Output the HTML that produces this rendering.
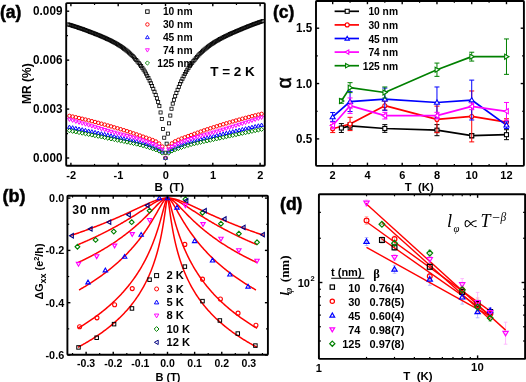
<!DOCTYPE html>
<html><head><meta charset="utf-8"><style>
html,body{margin:0;padding:0;background:#fff;width:526px;height:382px;overflow:hidden}
svg{display:block;will-change:transform}

</style></head><body>
<svg width="526" height="382" viewBox="0 0 526 382"><g id="pa">
<rect x="66.63" y="22.86" width="3.1" height="3.1" fill="none" stroke="#000000" stroke-width="0.8"/><rect x="67.85" y="23.22" width="3.1" height="3.1" fill="none" stroke="#000000" stroke-width="0.8"/><rect x="69.07" y="23.58" width="3.1" height="3.1" fill="none" stroke="#000000" stroke-width="0.8"/><rect x="70.28" y="23.95" width="3.1" height="3.1" fill="none" stroke="#000000" stroke-width="0.8"/><rect x="71.5" y="24.33" width="3.1" height="3.1" fill="none" stroke="#000000" stroke-width="0.8"/><rect x="72.71" y="24.72" width="3.1" height="3.1" fill="none" stroke="#000000" stroke-width="0.8"/><rect x="73.93" y="25.11" width="3.1" height="3.1" fill="none" stroke="#000000" stroke-width="0.8"/><rect x="75.14" y="25.51" width="3.1" height="3.1" fill="none" stroke="#000000" stroke-width="0.8"/><rect x="76.36" y="25.91" width="3.1" height="3.1" fill="none" stroke="#000000" stroke-width="0.8"/><rect x="77.58" y="26.32" width="3.1" height="3.1" fill="none" stroke="#000000" stroke-width="0.8"/><rect x="78.79" y="26.74" width="3.1" height="3.1" fill="none" stroke="#000000" stroke-width="0.8"/><rect x="80.01" y="27.16" width="3.1" height="3.1" fill="none" stroke="#000000" stroke-width="0.8"/><rect x="81.22" y="27.59" width="3.1" height="3.1" fill="none" stroke="#000000" stroke-width="0.8"/><rect x="82.44" y="28.03" width="3.1" height="3.1" fill="none" stroke="#000000" stroke-width="0.8"/><rect x="83.65" y="28.47" width="3.1" height="3.1" fill="none" stroke="#000000" stroke-width="0.8"/><rect x="84.87" y="28.92" width="3.1" height="3.1" fill="none" stroke="#000000" stroke-width="0.8"/><rect x="86.08" y="29.37" width="3.1" height="3.1" fill="none" stroke="#000000" stroke-width="0.8"/><rect x="87.3" y="29.83" width="3.1" height="3.1" fill="none" stroke="#000000" stroke-width="0.8"/><rect x="88.52" y="30.3" width="3.1" height="3.1" fill="none" stroke="#000000" stroke-width="0.8"/><rect x="89.73" y="30.76" width="3.1" height="3.1" fill="none" stroke="#000000" stroke-width="0.8"/><rect x="90.95" y="31.23" width="3.1" height="3.1" fill="none" stroke="#000000" stroke-width="0.8"/><rect x="92.16" y="31.7" width="3.1" height="3.1" fill="none" stroke="#000000" stroke-width="0.8"/><rect x="93.38" y="32.18" width="3.1" height="3.1" fill="none" stroke="#000000" stroke-width="0.8"/><rect x="94.59" y="32.66" width="3.1" height="3.1" fill="none" stroke="#000000" stroke-width="0.8"/><rect x="95.81" y="33.14" width="3.1" height="3.1" fill="none" stroke="#000000" stroke-width="0.8"/><rect x="97.03" y="33.63" width="3.1" height="3.1" fill="none" stroke="#000000" stroke-width="0.8"/><rect x="98.24" y="34.13" width="3.1" height="3.1" fill="none" stroke="#000000" stroke-width="0.8"/><rect x="99.46" y="34.64" width="3.1" height="3.1" fill="none" stroke="#000000" stroke-width="0.8"/><rect x="100.67" y="35.15" width="3.1" height="3.1" fill="none" stroke="#000000" stroke-width="0.8"/><rect x="101.89" y="35.68" width="3.1" height="3.1" fill="none" stroke="#000000" stroke-width="0.8"/><rect x="103.1" y="36.21" width="3.1" height="3.1" fill="none" stroke="#000000" stroke-width="0.8"/><rect x="104.32" y="36.76" width="3.1" height="3.1" fill="none" stroke="#000000" stroke-width="0.8"/><rect x="105.53" y="37.32" width="3.1" height="3.1" fill="none" stroke="#000000" stroke-width="0.8"/><rect x="106.75" y="37.89" width="3.1" height="3.1" fill="none" stroke="#000000" stroke-width="0.8"/><rect x="107.97" y="38.48" width="3.1" height="3.1" fill="none" stroke="#000000" stroke-width="0.8"/><rect x="109.18" y="39.08" width="3.1" height="3.1" fill="none" stroke="#000000" stroke-width="0.8"/><rect x="110.4" y="39.69" width="3.1" height="3.1" fill="none" stroke="#000000" stroke-width="0.8"/><rect x="111.61" y="40.32" width="3.1" height="3.1" fill="none" stroke="#000000" stroke-width="0.8"/><rect x="112.83" y="40.97" width="3.1" height="3.1" fill="none" stroke="#000000" stroke-width="0.8"/><rect x="114.04" y="41.64" width="3.1" height="3.1" fill="none" stroke="#000000" stroke-width="0.8"/><rect x="115.26" y="42.33" width="3.1" height="3.1" fill="none" stroke="#000000" stroke-width="0.8"/><rect x="116.47" y="43.05" width="3.1" height="3.1" fill="none" stroke="#000000" stroke-width="0.8"/><rect x="117.69" y="43.81" width="3.1" height="3.1" fill="none" stroke="#000000" stroke-width="0.8"/><rect x="118.91" y="44.59" width="3.1" height="3.1" fill="none" stroke="#000000" stroke-width="0.8"/><rect x="120.12" y="45.4" width="3.1" height="3.1" fill="none" stroke="#000000" stroke-width="0.8"/><rect x="121.34" y="46.25" width="3.1" height="3.1" fill="none" stroke="#000000" stroke-width="0.8"/><rect x="122.55" y="47.13" width="3.1" height="3.1" fill="none" stroke="#000000" stroke-width="0.8"/><rect x="123.77" y="48.05" width="3.1" height="3.1" fill="none" stroke="#000000" stroke-width="0.8"/><rect x="124.98" y="49" width="3.1" height="3.1" fill="none" stroke="#000000" stroke-width="0.8"/><rect x="126.2" y="49.99" width="3.1" height="3.1" fill="none" stroke="#000000" stroke-width="0.8"/><rect x="127.42" y="51.01" width="3.1" height="3.1" fill="none" stroke="#000000" stroke-width="0.8"/><rect x="128.63" y="52.1" width="3.1" height="3.1" fill="none" stroke="#000000" stroke-width="0.8"/><rect x="129.85" y="53.26" width="3.1" height="3.1" fill="none" stroke="#000000" stroke-width="0.8"/><rect x="131.06" y="54.49" width="3.1" height="3.1" fill="none" stroke="#000000" stroke-width="0.8"/><rect x="132.28" y="55.77" width="3.1" height="3.1" fill="none" stroke="#000000" stroke-width="0.8"/><rect x="133.49" y="57.12" width="3.1" height="3.1" fill="none" stroke="#000000" stroke-width="0.8"/><rect x="134.71" y="58.51" width="3.1" height="3.1" fill="none" stroke="#000000" stroke-width="0.8"/><rect x="135.92" y="59.95" width="3.1" height="3.1" fill="none" stroke="#000000" stroke-width="0.8"/><rect x="137.14" y="61.43" width="3.1" height="3.1" fill="none" stroke="#000000" stroke-width="0.8"/><rect x="138.36" y="62.95" width="3.1" height="3.1" fill="none" stroke="#000000" stroke-width="0.8"/><rect x="139.57" y="64.55" width="3.1" height="3.1" fill="none" stroke="#000000" stroke-width="0.8"/><rect x="140.79" y="66.25" width="3.1" height="3.1" fill="none" stroke="#000000" stroke-width="0.8"/><rect x="142" y="68.05" width="3.1" height="3.1" fill="none" stroke="#000000" stroke-width="0.8"/><rect x="143.22" y="69.98" width="3.1" height="3.1" fill="none" stroke="#000000" stroke-width="0.8"/><rect x="144.43" y="72.04" width="3.1" height="3.1" fill="none" stroke="#000000" stroke-width="0.8"/><rect x="145.65" y="74.25" width="3.1" height="3.1" fill="none" stroke="#000000" stroke-width="0.8"/><rect x="146.87" y="76.59" width="3.1" height="3.1" fill="none" stroke="#000000" stroke-width="0.8"/><rect x="148.08" y="79.06" width="3.1" height="3.1" fill="none" stroke="#000000" stroke-width="0.8"/><rect x="149.3" y="81.65" width="3.1" height="3.1" fill="none" stroke="#000000" stroke-width="0.8"/><rect x="150.51" y="84.36" width="3.1" height="3.1" fill="none" stroke="#000000" stroke-width="0.8"/><rect x="151.73" y="87.19" width="3.1" height="3.1" fill="none" stroke="#000000" stroke-width="0.8"/><rect x="152.94" y="90.18" width="3.1" height="3.1" fill="none" stroke="#000000" stroke-width="0.8"/><rect x="154.16" y="93.35" width="3.1" height="3.1" fill="none" stroke="#000000" stroke-width="0.8"/><rect x="155.37" y="96.74" width="3.1" height="3.1" fill="none" stroke="#000000" stroke-width="0.8"/><rect x="156.59" y="100.39" width="3.1" height="3.1" fill="none" stroke="#000000" stroke-width="0.8"/><rect x="157.81" y="104.58" width="3.1" height="3.1" fill="none" stroke="#000000" stroke-width="0.8"/><rect x="159.02" y="110.92" width="3.1" height="3.1" fill="none" stroke="#000000" stroke-width="0.8"/><rect x="160.24" y="117.47" width="3.1" height="3.1" fill="none" stroke="#000000" stroke-width="0.8"/><rect x="161.45" y="127.4" width="3.1" height="3.1" fill="none" stroke="#000000" stroke-width="0.8"/><rect x="162.67" y="136.15" width="3.1" height="3.1" fill="none" stroke="#000000" stroke-width="0.8"/><rect x="163.88" y="151.15" width="3.1" height="3.1" fill="none" stroke="#000000" stroke-width="0.8"/><rect x="165.1" y="142.14" width="3.1" height="3.1" fill="none" stroke="#000000" stroke-width="0.8"/><rect x="166.31" y="132.08" width="3.1" height="3.1" fill="none" stroke="#000000" stroke-width="0.8"/><rect x="167.53" y="121.79" width="3.1" height="3.1" fill="none" stroke="#000000" stroke-width="0.8"/><rect x="168.75" y="114" width="3.1" height="3.1" fill="none" stroke="#000000" stroke-width="0.8"/><rect x="169.96" y="107.2" width="3.1" height="3.1" fill="none" stroke="#000000" stroke-width="0.8"/><rect x="171.18" y="102.09" width="3.1" height="3.1" fill="none" stroke="#000000" stroke-width="0.8"/><rect x="172.39" y="98.23" width="3.1" height="3.1" fill="none" stroke="#000000" stroke-width="0.8"/><rect x="173.61" y="94.67" width="3.1" height="3.1" fill="none" stroke="#000000" stroke-width="0.8"/><rect x="174.82" y="91.35" width="3.1" height="3.1" fill="none" stroke="#000000" stroke-width="0.8"/><rect x="176.04" y="88.23" width="3.1" height="3.1" fill="none" stroke="#000000" stroke-width="0.8"/><rect x="177.26" y="85.29" width="3.1" height="3.1" fill="none" stroke="#000000" stroke-width="0.8"/><rect x="178.47" y="82.48" width="3.1" height="3.1" fill="none" stroke="#000000" stroke-width="0.8"/><rect x="179.69" y="79.78" width="3.1" height="3.1" fill="none" stroke="#000000" stroke-width="0.8"/><rect x="180.9" y="77.2" width="3.1" height="3.1" fill="none" stroke="#000000" stroke-width="0.8"/><rect x="182.12" y="74.75" width="3.1" height="3.1" fill="none" stroke="#000000" stroke-width="0.8"/><rect x="183.33" y="72.43" width="3.1" height="3.1" fill="none" stroke="#000000" stroke-width="0.8"/><rect x="184.55" y="70.26" width="3.1" height="3.1" fill="none" stroke="#000000" stroke-width="0.8"/><rect x="185.76" y="68.22" width="3.1" height="3.1" fill="none" stroke="#000000" stroke-width="0.8"/><rect x="186.98" y="66.32" width="3.1" height="3.1" fill="none" stroke="#000000" stroke-width="0.8"/><rect x="188.2" y="64.52" width="3.1" height="3.1" fill="none" stroke="#000000" stroke-width="0.8"/><rect x="189.41" y="62.83" width="3.1" height="3.1" fill="none" stroke="#000000" stroke-width="0.8"/><rect x="190.63" y="61.23" width="3.1" height="3.1" fill="none" stroke="#000000" stroke-width="0.8"/><rect x="191.84" y="59.69" width="3.1" height="3.1" fill="none" stroke="#000000" stroke-width="0.8"/><rect x="193.06" y="58.19" width="3.1" height="3.1" fill="none" stroke="#000000" stroke-width="0.8"/><rect x="194.27" y="56.73" width="3.1" height="3.1" fill="none" stroke="#000000" stroke-width="0.8"/><rect x="195.49" y="55.31" width="3.1" height="3.1" fill="none" stroke="#000000" stroke-width="0.8"/><rect x="196.71" y="53.95" width="3.1" height="3.1" fill="none" stroke="#000000" stroke-width="0.8"/><rect x="197.92" y="52.65" width="3.1" height="3.1" fill="none" stroke="#000000" stroke-width="0.8"/><rect x="199.14" y="51.41" width="3.1" height="3.1" fill="none" stroke="#000000" stroke-width="0.8"/><rect x="200.35" y="50.25" width="3.1" height="3.1" fill="none" stroke="#000000" stroke-width="0.8"/><rect x="201.57" y="49.15" width="3.1" height="3.1" fill="none" stroke="#000000" stroke-width="0.8"/><rect x="202.78" y="48.1" width="3.1" height="3.1" fill="none" stroke="#000000" stroke-width="0.8"/><rect x="204" y="47.09" width="3.1" height="3.1" fill="none" stroke="#000000" stroke-width="0.8"/><rect x="205.21" y="46.11" width="3.1" height="3.1" fill="none" stroke="#000000" stroke-width="0.8"/><rect x="206.43" y="45.17" width="3.1" height="3.1" fill="none" stroke="#000000" stroke-width="0.8"/><rect x="207.65" y="44.26" width="3.1" height="3.1" fill="none" stroke="#000000" stroke-width="0.8"/><rect x="208.86" y="43.39" width="3.1" height="3.1" fill="none" stroke="#000000" stroke-width="0.8"/><rect x="210.08" y="42.55" width="3.1" height="3.1" fill="none" stroke="#000000" stroke-width="0.8"/><rect x="211.29" y="41.74" width="3.1" height="3.1" fill="none" stroke="#000000" stroke-width="0.8"/><rect x="212.51" y="40.96" width="3.1" height="3.1" fill="none" stroke="#000000" stroke-width="0.8"/><rect x="213.72" y="40.21" width="3.1" height="3.1" fill="none" stroke="#000000" stroke-width="0.8"/><rect x="214.94" y="39.48" width="3.1" height="3.1" fill="none" stroke="#000000" stroke-width="0.8"/><rect x="216.16" y="38.78" width="3.1" height="3.1" fill="none" stroke="#000000" stroke-width="0.8"/><rect x="217.37" y="38.1" width="3.1" height="3.1" fill="none" stroke="#000000" stroke-width="0.8"/><rect x="218.59" y="37.43" width="3.1" height="3.1" fill="none" stroke="#000000" stroke-width="0.8"/><rect x="219.8" y="36.78" width="3.1" height="3.1" fill="none" stroke="#000000" stroke-width="0.8"/><rect x="221.02" y="36.14" width="3.1" height="3.1" fill="none" stroke="#000000" stroke-width="0.8"/><rect x="222.23" y="35.52" width="3.1" height="3.1" fill="none" stroke="#000000" stroke-width="0.8"/><rect x="223.45" y="34.91" width="3.1" height="3.1" fill="none" stroke="#000000" stroke-width="0.8"/><rect x="224.66" y="34.32" width="3.1" height="3.1" fill="none" stroke="#000000" stroke-width="0.8"/><rect x="225.88" y="33.73" width="3.1" height="3.1" fill="none" stroke="#000000" stroke-width="0.8"/><rect x="227.1" y="33.16" width="3.1" height="3.1" fill="none" stroke="#000000" stroke-width="0.8"/><rect x="228.31" y="32.59" width="3.1" height="3.1" fill="none" stroke="#000000" stroke-width="0.8"/><rect x="229.53" y="32.04" width="3.1" height="3.1" fill="none" stroke="#000000" stroke-width="0.8"/><rect x="230.74" y="31.49" width="3.1" height="3.1" fill="none" stroke="#000000" stroke-width="0.8"/><rect x="231.96" y="30.96" width="3.1" height="3.1" fill="none" stroke="#000000" stroke-width="0.8"/><rect x="233.17" y="30.42" width="3.1" height="3.1" fill="none" stroke="#000000" stroke-width="0.8"/><rect x="234.39" y="29.9" width="3.1" height="3.1" fill="none" stroke="#000000" stroke-width="0.8"/><rect x="235.6" y="29.38" width="3.1" height="3.1" fill="none" stroke="#000000" stroke-width="0.8"/><rect x="236.82" y="28.86" width="3.1" height="3.1" fill="none" stroke="#000000" stroke-width="0.8"/><rect x="238.04" y="28.35" width="3.1" height="3.1" fill="none" stroke="#000000" stroke-width="0.8"/><rect x="239.25" y="27.84" width="3.1" height="3.1" fill="none" stroke="#000000" stroke-width="0.8"/><rect x="240.47" y="27.33" width="3.1" height="3.1" fill="none" stroke="#000000" stroke-width="0.8"/><rect x="241.68" y="26.82" width="3.1" height="3.1" fill="none" stroke="#000000" stroke-width="0.8"/><rect x="242.9" y="26.32" width="3.1" height="3.1" fill="none" stroke="#000000" stroke-width="0.8"/><rect x="244.11" y="25.83" width="3.1" height="3.1" fill="none" stroke="#000000" stroke-width="0.8"/><rect x="245.33" y="25.34" width="3.1" height="3.1" fill="none" stroke="#000000" stroke-width="0.8"/><rect x="246.55" y="24.86" width="3.1" height="3.1" fill="none" stroke="#000000" stroke-width="0.8"/><rect x="247.76" y="24.38" width="3.1" height="3.1" fill="none" stroke="#000000" stroke-width="0.8"/><rect x="248.98" y="23.91" width="3.1" height="3.1" fill="none" stroke="#000000" stroke-width="0.8"/><rect x="250.19" y="23.45" width="3.1" height="3.1" fill="none" stroke="#000000" stroke-width="0.8"/><rect x="251.41" y="22.99" width="3.1" height="3.1" fill="none" stroke="#000000" stroke-width="0.8"/><rect x="252.62" y="22.54" width="3.1" height="3.1" fill="none" stroke="#000000" stroke-width="0.8"/><rect x="253.84" y="22.09" width="3.1" height="3.1" fill="none" stroke="#000000" stroke-width="0.8"/><rect x="255.05" y="21.65" width="3.1" height="3.1" fill="none" stroke="#000000" stroke-width="0.8"/><rect x="256.27" y="21.22" width="3.1" height="3.1" fill="none" stroke="#000000" stroke-width="0.8"/><rect x="257.49" y="20.8" width="3.1" height="3.1" fill="none" stroke="#000000" stroke-width="0.8"/><rect x="258.7" y="20.38" width="3.1" height="3.1" fill="none" stroke="#000000" stroke-width="0.8"/><rect x="259.92" y="19.97" width="3.1" height="3.1" fill="none" stroke="#000000" stroke-width="0.8"/><rect x="261.13" y="19.56" width="3.1" height="3.1" fill="none" stroke="#000000" stroke-width="0.8"/>
<circle cx="69.43" cy="115.87" r="1.75" fill="none" stroke="#ff0000" stroke-width="1.0"/><circle cx="72.64" cy="116.56" r="1.75" fill="none" stroke="#ff0000" stroke-width="1.0"/><circle cx="75.84" cy="117.27" r="1.75" fill="none" stroke="#ff0000" stroke-width="1.0"/><circle cx="79.04" cy="118.01" r="1.75" fill="none" stroke="#ff0000" stroke-width="1.0"/><circle cx="82.24" cy="118.77" r="1.75" fill="none" stroke="#ff0000" stroke-width="1.0"/><circle cx="85.44" cy="119.54" r="1.75" fill="none" stroke="#ff0000" stroke-width="1.0"/><circle cx="88.65" cy="120.34" r="1.75" fill="none" stroke="#ff0000" stroke-width="1.0"/><circle cx="91.85" cy="121.16" r="1.75" fill="none" stroke="#ff0000" stroke-width="1.0"/><circle cx="95.05" cy="122" r="1.75" fill="none" stroke="#ff0000" stroke-width="1.0"/><circle cx="98.25" cy="122.85" r="1.75" fill="none" stroke="#ff0000" stroke-width="1.0"/><circle cx="101.46" cy="123.72" r="1.75" fill="none" stroke="#ff0000" stroke-width="1.0"/><circle cx="104.66" cy="124.61" r="1.75" fill="none" stroke="#ff0000" stroke-width="1.0"/><circle cx="107.86" cy="125.51" r="1.75" fill="none" stroke="#ff0000" stroke-width="1.0"/><circle cx="111.06" cy="126.42" r="1.75" fill="none" stroke="#ff0000" stroke-width="1.0"/><circle cx="114.26" cy="127.34" r="1.75" fill="none" stroke="#ff0000" stroke-width="1.0"/><circle cx="117.47" cy="128.27" r="1.75" fill="none" stroke="#ff0000" stroke-width="1.0"/><circle cx="120.67" cy="129.23" r="1.75" fill="none" stroke="#ff0000" stroke-width="1.0"/><circle cx="123.87" cy="130.21" r="1.75" fill="none" stroke="#ff0000" stroke-width="1.0"/><circle cx="127.07" cy="131.23" r="1.75" fill="none" stroke="#ff0000" stroke-width="1.0"/><circle cx="130.28" cy="132.28" r="1.75" fill="none" stroke="#ff0000" stroke-width="1.0"/><circle cx="133.48" cy="133.35" r="1.75" fill="none" stroke="#ff0000" stroke-width="1.0"/><circle cx="136.68" cy="134.44" r="1.75" fill="none" stroke="#ff0000" stroke-width="1.0"/><circle cx="139.88" cy="135.55" r="1.75" fill="none" stroke="#ff0000" stroke-width="1.0"/><circle cx="143.08" cy="136.67" r="1.75" fill="none" stroke="#ff0000" stroke-width="1.0"/><circle cx="146.29" cy="137.75" r="1.75" fill="none" stroke="#ff0000" stroke-width="1.0"/><circle cx="149.49" cy="138.85" r="1.75" fill="none" stroke="#ff0000" stroke-width="1.0"/><circle cx="152.69" cy="140.07" r="1.75" fill="none" stroke="#ff0000" stroke-width="1.0"/><circle cx="155.89" cy="141.52" r="1.75" fill="none" stroke="#ff0000" stroke-width="1.0"/><circle cx="159.1" cy="143.55" r="1.75" fill="none" stroke="#ff0000" stroke-width="1.0"/><circle cx="162.3" cy="146.55" r="1.75" fill="none" stroke="#ff0000" stroke-width="1.0"/><circle cx="165.5" cy="158" r="1.75" fill="none" stroke="#ff0000" stroke-width="1.0"/><circle cx="168.7" cy="146.49" r="1.75" fill="none" stroke="#ff0000" stroke-width="1.0"/><circle cx="171.9" cy="143.42" r="1.75" fill="none" stroke="#ff0000" stroke-width="1.0"/><circle cx="175.11" cy="141.33" r="1.75" fill="none" stroke="#ff0000" stroke-width="1.0"/><circle cx="178.31" cy="139.81" r="1.75" fill="none" stroke="#ff0000" stroke-width="1.0"/><circle cx="181.51" cy="138.52" r="1.75" fill="none" stroke="#ff0000" stroke-width="1.0"/><circle cx="184.71" cy="137.35" r="1.75" fill="none" stroke="#ff0000" stroke-width="1.0"/><circle cx="187.92" cy="136.21" r="1.75" fill="none" stroke="#ff0000" stroke-width="1.0"/><circle cx="191.12" cy="135.02" r="1.75" fill="none" stroke="#ff0000" stroke-width="1.0"/><circle cx="194.32" cy="133.84" r="1.75" fill="none" stroke="#ff0000" stroke-width="1.0"/><circle cx="197.52" cy="132.68" r="1.75" fill="none" stroke="#ff0000" stroke-width="1.0"/><circle cx="200.72" cy="131.55" r="1.75" fill="none" stroke="#ff0000" stroke-width="1.0"/><circle cx="203.93" cy="130.43" r="1.75" fill="none" stroke="#ff0000" stroke-width="1.0"/><circle cx="207.13" cy="129.35" r="1.75" fill="none" stroke="#ff0000" stroke-width="1.0"/><circle cx="210.33" cy="128.3" r="1.75" fill="none" stroke="#ff0000" stroke-width="1.0"/><circle cx="213.53" cy="127.28" r="1.75" fill="none" stroke="#ff0000" stroke-width="1.0"/><circle cx="216.74" cy="126.28" r="1.75" fill="none" stroke="#ff0000" stroke-width="1.0"/><circle cx="219.94" cy="125.29" r="1.75" fill="none" stroke="#ff0000" stroke-width="1.0"/><circle cx="223.14" cy="124.31" r="1.75" fill="none" stroke="#ff0000" stroke-width="1.0"/><circle cx="226.34" cy="123.35" r="1.75" fill="none" stroke="#ff0000" stroke-width="1.0"/><circle cx="229.54" cy="122.4" r="1.75" fill="none" stroke="#ff0000" stroke-width="1.0"/><circle cx="232.75" cy="121.46" r="1.75" fill="none" stroke="#ff0000" stroke-width="1.0"/><circle cx="235.95" cy="120.54" r="1.75" fill="none" stroke="#ff0000" stroke-width="1.0"/><circle cx="239.15" cy="119.64" r="1.75" fill="none" stroke="#ff0000" stroke-width="1.0"/><circle cx="242.35" cy="118.75" r="1.75" fill="none" stroke="#ff0000" stroke-width="1.0"/><circle cx="245.56" cy="117.89" r="1.75" fill="none" stroke="#ff0000" stroke-width="1.0"/><circle cx="248.76" cy="117.04" r="1.75" fill="none" stroke="#ff0000" stroke-width="1.0"/><circle cx="251.96" cy="116.22" r="1.75" fill="none" stroke="#ff0000" stroke-width="1.0"/><circle cx="255.16" cy="115.41" r="1.75" fill="none" stroke="#ff0000" stroke-width="1.0"/><circle cx="258.36" cy="114.63" r="1.75" fill="none" stroke="#ff0000" stroke-width="1.0"/><circle cx="261.57" cy="113.88" r="1.75" fill="none" stroke="#ff0000" stroke-width="1.0"/>
<polygon points="69.43,125.06 67.51,128.39 71.36,128.39" fill="none" stroke="#0000ff" stroke-width="1.0" stroke-linejoin="miter"/><polygon points="72.64,125.7 70.71,129.02 74.56,129.02" fill="none" stroke="#0000ff" stroke-width="1.0" stroke-linejoin="miter"/><polygon points="75.84,126.34 73.91,129.67 77.76,129.67" fill="none" stroke="#0000ff" stroke-width="1.0" stroke-linejoin="miter"/><polygon points="79.04,126.99 77.12,130.32 80.97,130.32" fill="none" stroke="#0000ff" stroke-width="1.0" stroke-linejoin="miter"/><polygon points="82.24,127.65 80.32,130.98 84.17,130.98" fill="none" stroke="#0000ff" stroke-width="1.0" stroke-linejoin="miter"/><polygon points="85.44,128.31 83.52,131.64 87.37,131.64" fill="none" stroke="#0000ff" stroke-width="1.0" stroke-linejoin="miter"/><polygon points="88.65,128.98 86.72,132.3 90.57,132.3" fill="none" stroke="#0000ff" stroke-width="1.0" stroke-linejoin="miter"/><polygon points="91.85,129.65 89.92,132.98 93.77,132.98" fill="none" stroke="#0000ff" stroke-width="1.0" stroke-linejoin="miter"/><polygon points="95.05,130.33 93.13,133.66 96.98,133.66" fill="none" stroke="#0000ff" stroke-width="1.0" stroke-linejoin="miter"/><polygon points="98.25,131.01 96.33,134.34 100.18,134.34" fill="none" stroke="#0000ff" stroke-width="1.0" stroke-linejoin="miter"/><polygon points="101.46,131.7 99.53,135.03 103.38,135.03" fill="none" stroke="#0000ff" stroke-width="1.0" stroke-linejoin="miter"/><polygon points="104.66,132.39 102.73,135.72 106.58,135.72" fill="none" stroke="#0000ff" stroke-width="1.0" stroke-linejoin="miter"/><polygon points="107.86,133.09 105.94,136.41 109.79,136.41" fill="none" stroke="#0000ff" stroke-width="1.0" stroke-linejoin="miter"/><polygon points="111.06,133.79 109.14,137.11 112.99,137.11" fill="none" stroke="#0000ff" stroke-width="1.0" stroke-linejoin="miter"/><polygon points="114.26,134.49 112.34,137.82 116.19,137.82" fill="none" stroke="#0000ff" stroke-width="1.0" stroke-linejoin="miter"/><polygon points="117.47,135.2 115.54,138.53 119.39,138.53" fill="none" stroke="#0000ff" stroke-width="1.0" stroke-linejoin="miter"/><polygon points="120.67,135.9 118.74,139.23 122.59,139.23" fill="none" stroke="#0000ff" stroke-width="1.0" stroke-linejoin="miter"/><polygon points="123.87,136.58 121.95,139.91 125.8,139.91" fill="none" stroke="#0000ff" stroke-width="1.0" stroke-linejoin="miter"/><polygon points="127.07,137.26 125.15,140.59 129,140.59" fill="none" stroke="#0000ff" stroke-width="1.0" stroke-linejoin="miter"/><polygon points="130.28,137.95 128.35,141.28 132.2,141.28" fill="none" stroke="#0000ff" stroke-width="1.0" stroke-linejoin="miter"/><polygon points="133.48,138.67 131.55,142 135.4,142" fill="none" stroke="#0000ff" stroke-width="1.0" stroke-linejoin="miter"/><polygon points="136.68,139.44 134.76,142.76 138.61,142.76" fill="none" stroke="#0000ff" stroke-width="1.0" stroke-linejoin="miter"/><polygon points="139.88,140.27 137.96,143.59 141.81,143.59" fill="none" stroke="#0000ff" stroke-width="1.0" stroke-linejoin="miter"/><polygon points="143.08,141.18 141.16,144.51 145.01,144.51" fill="none" stroke="#0000ff" stroke-width="1.0" stroke-linejoin="miter"/><polygon points="146.29,142.21 144.36,145.54 148.21,145.54" fill="none" stroke="#0000ff" stroke-width="1.0" stroke-linejoin="miter"/><polygon points="149.49,143.35 147.56,146.68 151.41,146.68" fill="none" stroke="#0000ff" stroke-width="1.0" stroke-linejoin="miter"/><polygon points="152.69,144.59 150.77,147.92 154.62,147.92" fill="none" stroke="#0000ff" stroke-width="1.0" stroke-linejoin="miter"/><polygon points="155.89,145.91 153.97,149.24 157.82,149.24" fill="none" stroke="#0000ff" stroke-width="1.0" stroke-linejoin="miter"/><polygon points="159.1,147.43 157.17,150.76 161.02,150.76" fill="none" stroke="#0000ff" stroke-width="1.0" stroke-linejoin="miter"/><polygon points="162.3,149.62 160.37,152.95 164.22,152.95" fill="none" stroke="#0000ff" stroke-width="1.0" stroke-linejoin="miter"/><polygon points="165.5,156.07 163.57,159.4 167.43,159.4" fill="none" stroke="#0000ff" stroke-width="1.0" stroke-linejoin="miter"/><polygon points="168.7,149.56 166.78,152.88 170.63,152.88" fill="none" stroke="#0000ff" stroke-width="1.0" stroke-linejoin="miter"/><polygon points="171.9,147.3 169.98,150.62 173.83,150.62" fill="none" stroke="#0000ff" stroke-width="1.0" stroke-linejoin="miter"/><polygon points="175.11,145.71 173.18,149.04 177.03,149.04" fill="none" stroke="#0000ff" stroke-width="1.0" stroke-linejoin="miter"/><polygon points="178.31,144.33 176.38,147.65 180.23,147.65" fill="none" stroke="#0000ff" stroke-width="1.0" stroke-linejoin="miter"/><polygon points="181.51,143.02 179.59,146.35 183.44,146.35" fill="none" stroke="#0000ff" stroke-width="1.0" stroke-linejoin="miter"/><polygon points="184.71,141.82 182.79,145.14 186.64,145.14" fill="none" stroke="#0000ff" stroke-width="1.0" stroke-linejoin="miter"/><polygon points="187.92,140.72 185.99,144.05 189.84,144.05" fill="none" stroke="#0000ff" stroke-width="1.0" stroke-linejoin="miter"/><polygon points="191.12,139.74 189.19,143.06 193.04,143.06" fill="none" stroke="#0000ff" stroke-width="1.0" stroke-linejoin="miter"/><polygon points="194.32,138.84 192.39,142.17 196.24,142.17" fill="none" stroke="#0000ff" stroke-width="1.0" stroke-linejoin="miter"/><polygon points="197.52,138.01 195.6,141.33 199.45,141.33" fill="none" stroke="#0000ff" stroke-width="1.0" stroke-linejoin="miter"/><polygon points="200.72,137.22 198.8,140.55 202.65,140.55" fill="none" stroke="#0000ff" stroke-width="1.0" stroke-linejoin="miter"/><polygon points="203.93,136.47 202,139.79 205.85,139.79" fill="none" stroke="#0000ff" stroke-width="1.0" stroke-linejoin="miter"/><polygon points="207.13,135.72 205.2,139.05 209.05,139.05" fill="none" stroke="#0000ff" stroke-width="1.0" stroke-linejoin="miter"/><polygon points="210.33,134.98 208.41,138.3 212.26,138.3" fill="none" stroke="#0000ff" stroke-width="1.0" stroke-linejoin="miter"/><polygon points="213.53,134.21 211.61,137.53 215.46,137.53" fill="none" stroke="#0000ff" stroke-width="1.0" stroke-linejoin="miter"/><polygon points="216.74,133.43 214.81,136.76 218.66,136.76" fill="none" stroke="#0000ff" stroke-width="1.0" stroke-linejoin="miter"/><polygon points="219.94,132.66 218.01,135.99 221.86,135.99" fill="none" stroke="#0000ff" stroke-width="1.0" stroke-linejoin="miter"/><polygon points="223.14,131.9 221.21,135.22 225.06,135.22" fill="none" stroke="#0000ff" stroke-width="1.0" stroke-linejoin="miter"/><polygon points="226.34,131.13 224.42,134.46 228.27,134.46" fill="none" stroke="#0000ff" stroke-width="1.0" stroke-linejoin="miter"/><polygon points="229.54,130.38 227.62,133.7 231.47,133.7" fill="none" stroke="#0000ff" stroke-width="1.0" stroke-linejoin="miter"/><polygon points="232.75,129.62 230.82,132.95 234.67,132.95" fill="none" stroke="#0000ff" stroke-width="1.0" stroke-linejoin="miter"/><polygon points="235.95,128.87 234.02,132.2 237.87,132.2" fill="none" stroke="#0000ff" stroke-width="1.0" stroke-linejoin="miter"/><polygon points="239.15,128.13 237.23,131.45 241.08,131.45" fill="none" stroke="#0000ff" stroke-width="1.0" stroke-linejoin="miter"/><polygon points="242.35,127.39 240.43,130.71 244.28,130.71" fill="none" stroke="#0000ff" stroke-width="1.0" stroke-linejoin="miter"/><polygon points="245.56,126.66 243.63,129.98 247.48,129.98" fill="none" stroke="#0000ff" stroke-width="1.0" stroke-linejoin="miter"/><polygon points="248.76,125.93 246.83,129.25 250.68,129.25" fill="none" stroke="#0000ff" stroke-width="1.0" stroke-linejoin="miter"/><polygon points="251.96,125.21 250.03,128.53 253.88,128.53" fill="none" stroke="#0000ff" stroke-width="1.0" stroke-linejoin="miter"/><polygon points="255.16,124.49 253.24,127.81 257.09,127.81" fill="none" stroke="#0000ff" stroke-width="1.0" stroke-linejoin="miter"/><polygon points="258.36,123.78 256.44,127.1 260.29,127.1" fill="none" stroke="#0000ff" stroke-width="1.0" stroke-linejoin="miter"/><polygon points="261.57,123.07 259.64,126.4 263.49,126.4" fill="none" stroke="#0000ff" stroke-width="1.0" stroke-linejoin="miter"/>
<polygon points="69.43,121.46 67.51,118.13 71.36,118.13" fill="none" stroke="#ff00ff" stroke-width="1.0" stroke-linejoin="miter"/><polygon points="72.64,122.43 70.71,119.11 74.56,119.11" fill="none" stroke="#ff00ff" stroke-width="1.0" stroke-linejoin="miter"/><polygon points="75.84,123.4 73.91,120.07 77.76,120.07" fill="none" stroke="#ff00ff" stroke-width="1.0" stroke-linejoin="miter"/><polygon points="79.04,124.36 77.12,121.03 80.97,121.03" fill="none" stroke="#ff00ff" stroke-width="1.0" stroke-linejoin="miter"/><polygon points="82.24,125.31 80.32,121.98 84.17,121.98" fill="none" stroke="#ff00ff" stroke-width="1.0" stroke-linejoin="miter"/><polygon points="85.44,126.26 83.52,122.93 87.37,122.93" fill="none" stroke="#ff00ff" stroke-width="1.0" stroke-linejoin="miter"/><polygon points="88.65,127.2 86.72,123.87 90.57,123.87" fill="none" stroke="#ff00ff" stroke-width="1.0" stroke-linejoin="miter"/><polygon points="91.85,128.13 89.92,124.81 93.77,124.81" fill="none" stroke="#ff00ff" stroke-width="1.0" stroke-linejoin="miter"/><polygon points="95.05,129.06 93.13,125.73 96.98,125.73" fill="none" stroke="#ff00ff" stroke-width="1.0" stroke-linejoin="miter"/><polygon points="98.25,129.98 96.33,126.66 100.18,126.66" fill="none" stroke="#ff00ff" stroke-width="1.0" stroke-linejoin="miter"/><polygon points="101.46,130.9 99.53,127.57 103.38,127.57" fill="none" stroke="#ff00ff" stroke-width="1.0" stroke-linejoin="miter"/><polygon points="104.66,131.81 102.73,128.49 106.58,128.49" fill="none" stroke="#ff00ff" stroke-width="1.0" stroke-linejoin="miter"/><polygon points="107.86,132.72 105.94,129.39 109.79,129.39" fill="none" stroke="#ff00ff" stroke-width="1.0" stroke-linejoin="miter"/><polygon points="111.06,133.62 109.14,130.3 112.99,130.3" fill="none" stroke="#ff00ff" stroke-width="1.0" stroke-linejoin="miter"/><polygon points="114.26,134.52 112.34,131.19 116.19,131.19" fill="none" stroke="#ff00ff" stroke-width="1.0" stroke-linejoin="miter"/><polygon points="117.47,135.41 115.54,132.09 119.39,132.09" fill="none" stroke="#ff00ff" stroke-width="1.0" stroke-linejoin="miter"/><polygon points="120.67,136.28 118.74,132.96 122.59,132.96" fill="none" stroke="#ff00ff" stroke-width="1.0" stroke-linejoin="miter"/><polygon points="123.87,137.12 121.95,133.79 125.8,133.79" fill="none" stroke="#ff00ff" stroke-width="1.0" stroke-linejoin="miter"/><polygon points="127.07,137.93 125.15,134.6 129,134.6" fill="none" stroke="#ff00ff" stroke-width="1.0" stroke-linejoin="miter"/><polygon points="130.28,138.73 128.35,135.41 132.2,135.41" fill="none" stroke="#ff00ff" stroke-width="1.0" stroke-linejoin="miter"/><polygon points="133.48,139.56 131.55,136.24 135.4,136.24" fill="none" stroke="#ff00ff" stroke-width="1.0" stroke-linejoin="miter"/><polygon points="136.68,140.43 134.76,137.11 138.61,137.11" fill="none" stroke="#ff00ff" stroke-width="1.0" stroke-linejoin="miter"/><polygon points="139.88,141.36 137.96,138.03 141.81,138.03" fill="none" stroke="#ff00ff" stroke-width="1.0" stroke-linejoin="miter"/><polygon points="143.08,142.37 141.16,139.04 145.01,139.04" fill="none" stroke="#ff00ff" stroke-width="1.0" stroke-linejoin="miter"/><polygon points="146.29,143.44 144.36,140.11 148.21,140.11" fill="none" stroke="#ff00ff" stroke-width="1.0" stroke-linejoin="miter"/><polygon points="149.49,144.59 147.56,141.27 151.41,141.27" fill="none" stroke="#ff00ff" stroke-width="1.0" stroke-linejoin="miter"/><polygon points="152.69,145.86 150.77,142.53 154.62,142.53" fill="none" stroke="#ff00ff" stroke-width="1.0" stroke-linejoin="miter"/><polygon points="155.89,147.26 153.97,143.93 157.82,143.93" fill="none" stroke="#ff00ff" stroke-width="1.0" stroke-linejoin="miter"/><polygon points="159.1,148.98 157.17,145.65 161.02,145.65" fill="none" stroke="#ff00ff" stroke-width="1.0" stroke-linejoin="miter"/><polygon points="162.3,151.48 160.37,148.15 164.22,148.15" fill="none" stroke="#ff00ff" stroke-width="1.0" stroke-linejoin="miter"/><polygon points="165.5,159.93 163.57,156.6 167.43,156.6" fill="none" stroke="#ff00ff" stroke-width="1.0" stroke-linejoin="miter"/><polygon points="168.7,151.41 166.78,148.08 170.63,148.08" fill="none" stroke="#ff00ff" stroke-width="1.0" stroke-linejoin="miter"/><polygon points="171.9,148.85 169.98,145.52 173.83,145.52" fill="none" stroke="#ff00ff" stroke-width="1.0" stroke-linejoin="miter"/><polygon points="175.11,147.06 173.18,143.73 177.03,143.73" fill="none" stroke="#ff00ff" stroke-width="1.0" stroke-linejoin="miter"/><polygon points="178.31,145.59 176.38,142.27 180.23,142.27" fill="none" stroke="#ff00ff" stroke-width="1.0" stroke-linejoin="miter"/><polygon points="181.51,144.26 179.59,140.94 183.44,140.94" fill="none" stroke="#ff00ff" stroke-width="1.0" stroke-linejoin="miter"/><polygon points="184.71,143.04 182.79,139.72 186.64,139.72" fill="none" stroke="#ff00ff" stroke-width="1.0" stroke-linejoin="miter"/><polygon points="187.92,141.9 185.99,138.58 189.84,138.58" fill="none" stroke="#ff00ff" stroke-width="1.0" stroke-linejoin="miter"/><polygon points="191.12,140.83 189.19,137.5 193.04,137.5" fill="none" stroke="#ff00ff" stroke-width="1.0" stroke-linejoin="miter"/><polygon points="194.32,139.83 192.39,136.51 196.24,136.51" fill="none" stroke="#ff00ff" stroke-width="1.0" stroke-linejoin="miter"/><polygon points="197.52,138.9 195.6,135.58 199.45,135.58" fill="none" stroke="#ff00ff" stroke-width="1.0" stroke-linejoin="miter"/><polygon points="200.72,138.01 198.8,134.68 202.65,134.68" fill="none" stroke="#ff00ff" stroke-width="1.0" stroke-linejoin="miter"/><polygon points="203.93,137.13 202,133.81 205.85,133.81" fill="none" stroke="#ff00ff" stroke-width="1.0" stroke-linejoin="miter"/><polygon points="207.13,136.25 205.2,132.93 209.05,132.93" fill="none" stroke="#ff00ff" stroke-width="1.0" stroke-linejoin="miter"/><polygon points="210.33,135.36 208.41,132.03 212.26,132.03" fill="none" stroke="#ff00ff" stroke-width="1.0" stroke-linejoin="miter"/><polygon points="213.53,134.42 211.61,131.09 215.46,131.09" fill="none" stroke="#ff00ff" stroke-width="1.0" stroke-linejoin="miter"/><polygon points="216.74,133.46 214.81,130.13 218.66,130.13" fill="none" stroke="#ff00ff" stroke-width="1.0" stroke-linejoin="miter"/><polygon points="219.94,132.49 218.01,129.17 221.86,129.17" fill="none" stroke="#ff00ff" stroke-width="1.0" stroke-linejoin="miter"/><polygon points="223.14,131.53 221.21,128.2 225.06,128.2" fill="none" stroke="#ff00ff" stroke-width="1.0" stroke-linejoin="miter"/><polygon points="226.34,130.55 224.42,127.23 228.27,127.23" fill="none" stroke="#ff00ff" stroke-width="1.0" stroke-linejoin="miter"/><polygon points="229.54,129.57 227.62,126.25 231.47,126.25" fill="none" stroke="#ff00ff" stroke-width="1.0" stroke-linejoin="miter"/><polygon points="232.75,128.59 230.82,125.27 234.67,125.27" fill="none" stroke="#ff00ff" stroke-width="1.0" stroke-linejoin="miter"/><polygon points="235.95,127.6 234.02,124.28 237.87,124.28" fill="none" stroke="#ff00ff" stroke-width="1.0" stroke-linejoin="miter"/><polygon points="239.15,126.61 237.23,123.28 241.08,123.28" fill="none" stroke="#ff00ff" stroke-width="1.0" stroke-linejoin="miter"/><polygon points="242.35,125.61 240.43,122.28 244.28,122.28" fill="none" stroke="#ff00ff" stroke-width="1.0" stroke-linejoin="miter"/><polygon points="245.56,124.6 243.63,121.27 247.48,121.27" fill="none" stroke="#ff00ff" stroke-width="1.0" stroke-linejoin="miter"/><polygon points="248.76,123.59 246.83,120.26 250.68,120.26" fill="none" stroke="#ff00ff" stroke-width="1.0" stroke-linejoin="miter"/><polygon points="251.96,122.57 250.03,119.24 253.88,119.24" fill="none" stroke="#ff00ff" stroke-width="1.0" stroke-linejoin="miter"/><polygon points="255.16,121.54 253.24,118.22 257.09,118.22" fill="none" stroke="#ff00ff" stroke-width="1.0" stroke-linejoin="miter"/><polygon points="258.36,120.51 256.44,117.18 260.29,117.18" fill="none" stroke="#ff00ff" stroke-width="1.0" stroke-linejoin="miter"/><polygon points="261.57,119.47 259.64,116.14 263.49,116.14" fill="none" stroke="#ff00ff" stroke-width="1.0" stroke-linejoin="miter"/>
<polygon points="69.43,128.58 71.53,130.68 69.43,132.78 67.33,130.68" fill="none" stroke="#008000" stroke-width="1.0" stroke-linejoin="miter"/><polygon points="72.64,129.18 74.74,131.28 72.64,133.38 70.54,131.28" fill="none" stroke="#008000" stroke-width="1.0" stroke-linejoin="miter"/><polygon points="75.84,129.79 77.94,131.89 75.84,133.99 73.74,131.89" fill="none" stroke="#008000" stroke-width="1.0" stroke-linejoin="miter"/><polygon points="79.04,130.4 81.14,132.5 79.04,134.6 76.94,132.5" fill="none" stroke="#008000" stroke-width="1.0" stroke-linejoin="miter"/><polygon points="82.24,131.02 84.34,133.12 82.24,135.22 80.14,133.12" fill="none" stroke="#008000" stroke-width="1.0" stroke-linejoin="miter"/><polygon points="85.44,131.64 87.54,133.74 85.44,135.84 83.34,133.74" fill="none" stroke="#008000" stroke-width="1.0" stroke-linejoin="miter"/><polygon points="88.65,132.27 90.75,134.37 88.65,136.47 86.55,134.37" fill="none" stroke="#008000" stroke-width="1.0" stroke-linejoin="miter"/><polygon points="91.85,132.9 93.95,135 91.85,137.1 89.75,135" fill="none" stroke="#008000" stroke-width="1.0" stroke-linejoin="miter"/><polygon points="95.05,133.53 97.15,135.63 95.05,137.73 92.95,135.63" fill="none" stroke="#008000" stroke-width="1.0" stroke-linejoin="miter"/><polygon points="98.25,134.17 100.35,136.27 98.25,138.37 96.15,136.27" fill="none" stroke="#008000" stroke-width="1.0" stroke-linejoin="miter"/><polygon points="101.46,134.81 103.56,136.91 101.46,139.01 99.36,136.91" fill="none" stroke="#008000" stroke-width="1.0" stroke-linejoin="miter"/><polygon points="104.66,135.46 106.76,137.56 104.66,139.66 102.56,137.56" fill="none" stroke="#008000" stroke-width="1.0" stroke-linejoin="miter"/><polygon points="107.86,136.11 109.96,138.21 107.86,140.31 105.76,138.21" fill="none" stroke="#008000" stroke-width="1.0" stroke-linejoin="miter"/><polygon points="111.06,136.76 113.16,138.86 111.06,140.96 108.96,138.86" fill="none" stroke="#008000" stroke-width="1.0" stroke-linejoin="miter"/><polygon points="114.26,137.42 116.36,139.52 114.26,141.62 112.16,139.52" fill="none" stroke="#008000" stroke-width="1.0" stroke-linejoin="miter"/><polygon points="117.47,138.08 119.57,140.18 117.47,142.28 115.37,140.18" fill="none" stroke="#008000" stroke-width="1.0" stroke-linejoin="miter"/><polygon points="120.67,138.73 122.77,140.83 120.67,142.93 118.57,140.83" fill="none" stroke="#008000" stroke-width="1.0" stroke-linejoin="miter"/><polygon points="123.87,139.36 125.97,141.46 123.87,143.56 121.77,141.46" fill="none" stroke="#008000" stroke-width="1.0" stroke-linejoin="miter"/><polygon points="127.07,140 129.17,142.1 127.07,144.2 124.97,142.1" fill="none" stroke="#008000" stroke-width="1.0" stroke-linejoin="miter"/><polygon points="130.28,140.64 132.38,142.74 130.28,144.84 128.18,142.74" fill="none" stroke="#008000" stroke-width="1.0" stroke-linejoin="miter"/><polygon points="133.48,141.3 135.58,143.4 133.48,145.5 131.38,143.4" fill="none" stroke="#008000" stroke-width="1.0" stroke-linejoin="miter"/><polygon points="136.68,142.01 138.78,144.11 136.68,146.21 134.58,144.11" fill="none" stroke="#008000" stroke-width="1.0" stroke-linejoin="miter"/><polygon points="139.88,142.77 141.98,144.87 139.88,146.97 137.78,144.87" fill="none" stroke="#008000" stroke-width="1.0" stroke-linejoin="miter"/><polygon points="143.08,143.59 145.18,145.69 143.08,147.79 140.98,145.69" fill="none" stroke="#008000" stroke-width="1.0" stroke-linejoin="miter"/><polygon points="146.29,144.51 148.39,146.61 146.29,148.71 144.19,146.61" fill="none" stroke="#008000" stroke-width="1.0" stroke-linejoin="miter"/><polygon points="149.49,145.52 151.59,147.62 149.49,149.72 147.39,147.62" fill="none" stroke="#008000" stroke-width="1.0" stroke-linejoin="miter"/><polygon points="152.69,146.6 154.79,148.7 152.69,150.8 150.59,148.7" fill="none" stroke="#008000" stroke-width="1.0" stroke-linejoin="miter"/><polygon points="155.89,147.71 157.99,149.81 155.89,151.91 153.79,149.81" fill="none" stroke="#008000" stroke-width="1.0" stroke-linejoin="miter"/><polygon points="159.1,148.94 161.2,151.04 159.1,153.14 157,151.04" fill="none" stroke="#008000" stroke-width="1.0" stroke-linejoin="miter"/><polygon points="162.3,150.93 164.4,153.03 162.3,155.13 160.2,153.03" fill="none" stroke="#008000" stroke-width="1.0" stroke-linejoin="miter"/><polygon points="165.5,155.9 167.6,158 165.5,160.1 163.4,158" fill="none" stroke="#008000" stroke-width="1.0" stroke-linejoin="miter"/><polygon points="168.7,150.89 170.8,152.99 168.7,155.09 166.6,152.99" fill="none" stroke="#008000" stroke-width="1.0" stroke-linejoin="miter"/><polygon points="171.9,148.85 174,150.95 171.9,153.05 169.8,150.95" fill="none" stroke="#008000" stroke-width="1.0" stroke-linejoin="miter"/><polygon points="175.11,147.58 177.21,149.68 175.11,151.78 173.01,149.68" fill="none" stroke="#008000" stroke-width="1.0" stroke-linejoin="miter"/><polygon points="178.31,146.42 180.41,148.52 178.31,150.62 176.21,148.52" fill="none" stroke="#008000" stroke-width="1.0" stroke-linejoin="miter"/><polygon points="181.51,145.3 183.61,147.4 181.51,149.5 179.41,147.4" fill="none" stroke="#008000" stroke-width="1.0" stroke-linejoin="miter"/><polygon points="184.71,144.25 186.81,146.35 184.71,148.45 182.61,146.35" fill="none" stroke="#008000" stroke-width="1.0" stroke-linejoin="miter"/><polygon points="187.92,143.28 190.02,145.38 187.92,147.48 185.82,145.38" fill="none" stroke="#008000" stroke-width="1.0" stroke-linejoin="miter"/><polygon points="191.12,142.41 193.22,144.51 191.12,146.61 189.02,144.51" fill="none" stroke="#008000" stroke-width="1.0" stroke-linejoin="miter"/><polygon points="194.32,141.61 196.42,143.71 194.32,145.81 192.22,143.71" fill="none" stroke="#008000" stroke-width="1.0" stroke-linejoin="miter"/><polygon points="197.52,140.86 199.62,142.96 197.52,145.06 195.42,142.96" fill="none" stroke="#008000" stroke-width="1.0" stroke-linejoin="miter"/><polygon points="200.72,140.15 202.82,142.25 200.72,144.35 198.62,142.25" fill="none" stroke="#008000" stroke-width="1.0" stroke-linejoin="miter"/><polygon points="203.93,139.47 206.03,141.57 203.93,143.67 201.83,141.57" fill="none" stroke="#008000" stroke-width="1.0" stroke-linejoin="miter"/><polygon points="207.13,138.79 209.23,140.89 207.13,142.99 205.03,140.89" fill="none" stroke="#008000" stroke-width="1.0" stroke-linejoin="miter"/><polygon points="210.33,138.11 212.43,140.21 210.33,142.31 208.23,140.21" fill="none" stroke="#008000" stroke-width="1.0" stroke-linejoin="miter"/><polygon points="213.53,137.41 215.63,139.51 213.53,141.61 211.43,139.51" fill="none" stroke="#008000" stroke-width="1.0" stroke-linejoin="miter"/><polygon points="216.74,136.71 218.84,138.81 216.74,140.91 214.64,138.81" fill="none" stroke="#008000" stroke-width="1.0" stroke-linejoin="miter"/><polygon points="219.94,136.01 222.04,138.11 219.94,140.21 217.84,138.11" fill="none" stroke="#008000" stroke-width="1.0" stroke-linejoin="miter"/><polygon points="223.14,135.31 225.24,137.41 223.14,139.51 221.04,137.41" fill="none" stroke="#008000" stroke-width="1.0" stroke-linejoin="miter"/><polygon points="226.34,134.62 228.44,136.72 226.34,138.82 224.24,136.72" fill="none" stroke="#008000" stroke-width="1.0" stroke-linejoin="miter"/><polygon points="229.54,133.93 231.64,136.03 229.54,138.13 227.44,136.03" fill="none" stroke="#008000" stroke-width="1.0" stroke-linejoin="miter"/><polygon points="232.75,133.24 234.85,135.34 232.75,137.44 230.65,135.34" fill="none" stroke="#008000" stroke-width="1.0" stroke-linejoin="miter"/><polygon points="235.95,132.56 238.05,134.66 235.95,136.76 233.85,134.66" fill="none" stroke="#008000" stroke-width="1.0" stroke-linejoin="miter"/><polygon points="239.15,131.88 241.25,133.98 239.15,136.08 237.05,133.98" fill="none" stroke="#008000" stroke-width="1.0" stroke-linejoin="miter"/><polygon points="242.35,131.21 244.45,133.31 242.35,135.41 240.25,133.31" fill="none" stroke="#008000" stroke-width="1.0" stroke-linejoin="miter"/><polygon points="245.56,130.54 247.66,132.64 245.56,134.74 243.46,132.64" fill="none" stroke="#008000" stroke-width="1.0" stroke-linejoin="miter"/><polygon points="248.76,129.87 250.86,131.97 248.76,134.07 246.66,131.97" fill="none" stroke="#008000" stroke-width="1.0" stroke-linejoin="miter"/><polygon points="251.96,129.21 254.06,131.31 251.96,133.41 249.86,131.31" fill="none" stroke="#008000" stroke-width="1.0" stroke-linejoin="miter"/><polygon points="255.16,128.55 257.26,130.65 255.16,132.75 253.06,130.65" fill="none" stroke="#008000" stroke-width="1.0" stroke-linejoin="miter"/><polygon points="258.36,127.9 260.46,130 258.36,132.1 256.26,130" fill="none" stroke="#008000" stroke-width="1.0" stroke-linejoin="miter"/><polygon points="261.57,127.25 263.67,129.35 261.57,131.45 259.47,129.35" fill="none" stroke="#008000" stroke-width="1.0" stroke-linejoin="miter"/>
<rect x="66.2" y="3.15" width="198.6" height="162.55" rx="0.8" fill="none" stroke="#000" stroke-width="1.9" stroke-linejoin="round"/>
<line x1="70.9" y1="165.7" x2="70.9" y2="162.7" stroke="#000" stroke-width="1.4" />
<line x1="70.9" y1="3.15" x2="70.9" y2="6.15" stroke="#000" stroke-width="1.4" />
<line x1="118.2" y1="165.7" x2="118.2" y2="162.7" stroke="#000" stroke-width="1.4" />
<line x1="118.2" y1="3.15" x2="118.2" y2="6.15" stroke="#000" stroke-width="1.4" />
<line x1="165.5" y1="165.7" x2="165.5" y2="162.7" stroke="#000" stroke-width="1.4" />
<line x1="165.5" y1="3.15" x2="165.5" y2="6.15" stroke="#000" stroke-width="1.4" />
<line x1="212.8" y1="165.7" x2="212.8" y2="162.7" stroke="#000" stroke-width="1.4" />
<line x1="212.8" y1="3.15" x2="212.8" y2="6.15" stroke="#000" stroke-width="1.4" />
<line x1="260.1" y1="165.7" x2="260.1" y2="162.7" stroke="#000" stroke-width="1.4" />
<line x1="260.1" y1="3.15" x2="260.1" y2="6.15" stroke="#000" stroke-width="1.4" />
<line x1="94.55" y1="165.7" x2="94.55" y2="163.9" stroke="#000" stroke-width="1.2" />
<line x1="94.55" y1="3.15" x2="94.55" y2="4.95" stroke="#000" stroke-width="1.2" />
<line x1="141.85" y1="165.7" x2="141.85" y2="163.9" stroke="#000" stroke-width="1.2" />
<line x1="141.85" y1="3.15" x2="141.85" y2="4.95" stroke="#000" stroke-width="1.2" />
<line x1="189.15" y1="165.7" x2="189.15" y2="163.9" stroke="#000" stroke-width="1.2" />
<line x1="189.15" y1="3.15" x2="189.15" y2="4.95" stroke="#000" stroke-width="1.2" />
<line x1="236.45" y1="165.7" x2="236.45" y2="163.9" stroke="#000" stroke-width="1.2" />
<line x1="236.45" y1="3.15" x2="236.45" y2="4.95" stroke="#000" stroke-width="1.2" />
<line x1="66.2" y1="158" x2="69.2" y2="158" stroke="#000" stroke-width="1.4" />
<line x1="66.2" y1="109.07" x2="69.2" y2="109.07" stroke="#000" stroke-width="1.4" />
<line x1="66.2" y1="60.13" x2="69.2" y2="60.13" stroke="#000" stroke-width="1.4" />
<line x1="66.2" y1="11.2" x2="69.2" y2="11.2" stroke="#000" stroke-width="1.4" />
<line x1="66.2" y1="133.53" x2="68" y2="133.53" stroke="#000" stroke-width="1.2" />
<line x1="66.2" y1="84.6" x2="68" y2="84.6" stroke="#000" stroke-width="1.2" />
<line x1="66.2" y1="35.67" x2="68" y2="35.67" stroke="#000" stroke-width="1.2" />
<text x="0" y="0" font-size="12.6" text-anchor="end" font-weight="bold" font-family="Liberation Sans" transform="translate(62.4,161.6) scale(0.93,1)">0.000</text>
<text x="0" y="0" font-size="12.6" text-anchor="end" font-weight="bold" font-family="Liberation Sans" transform="translate(62.4,112.67) scale(0.93,1)">0.003</text>
<text x="0" y="0" font-size="12.6" text-anchor="end" font-weight="bold" font-family="Liberation Sans" transform="translate(62.4,63.73) scale(0.93,1)">0.006</text>
<text x="0" y="0" font-size="12.6" text-anchor="end" font-weight="bold" font-family="Liberation Sans" transform="translate(62.4,14.8) scale(0.93,1)">0.009</text>
<text x="71.2" y="178.8" font-size="11" text-anchor="middle" font-weight="bold" font-family="Liberation Sans" >-2</text>
<text x="118.5" y="178.8" font-size="11" text-anchor="middle" font-weight="bold" font-family="Liberation Sans" >-1</text>
<text x="165.8" y="178.8" font-size="11" text-anchor="middle" font-weight="bold" font-family="Liberation Sans" >0</text>
<text x="213.1" y="178.8" font-size="11" text-anchor="middle" font-weight="bold" font-family="Liberation Sans" >1</text>
<text x="260.4" y="178.8" font-size="11" text-anchor="middle" font-weight="bold" font-family="Liberation Sans" >2</text>
<text x="169.3" y="191.3" font-size="11.5" text-anchor="middle" font-weight="bold" font-family="Liberation Sans" >B&#160;&#160;(T)</text>
<text x="0" y="0" font-size="12" text-anchor="middle" font-weight="bold" font-family="Liberation Sans" transform="translate(31,83.6) rotate(-90)">MR (%)</text>
<text x="0" y="17.6" font-size="17.5" text-anchor="start" font-weight="bold" font-family="Liberation Sans" stroke="#000" stroke-width="0.5">(a)</text>
<text x="232.5" y="76" font-size="13.5" text-anchor="middle" font-weight="bold" font-family="Liberation Sans" >T = 2 K</text>
<rect x="145.65" y="9.85" width="3.5" height="3.5" fill="none" stroke="#000000" stroke-width="0.9"/>
<text x="0" y="0" font-size="10.8" text-anchor="end" font-weight="bold" font-family="Liberation Sans" transform="translate(192.5,15.2) scale(0.95,1)">10 nm</text>
<circle cx="147.4" cy="24.45" r="1.75" fill="none" stroke="#ff0000" stroke-width="0.9"/>
<text x="0" y="0" font-size="10.8" text-anchor="end" font-weight="bold" font-family="Liberation Sans" transform="translate(192.5,28.05) scale(0.95,1)">30 nm</text>
<polygon points="147.4,35.38 145.47,38.7 149.33,38.7" fill="none" stroke="#0000ff" stroke-width="0.9" stroke-linejoin="miter"/>
<text x="0" y="0" font-size="10.8" text-anchor="end" font-weight="bold" font-family="Liberation Sans" transform="translate(192.5,40.9) scale(0.95,1)">45 nm</text>
<polygon points="147.4,52.07 145.47,48.75 149.33,48.75" fill="none" stroke="#ff00ff" stroke-width="0.9" stroke-linejoin="miter"/>
<text x="0" y="0" font-size="10.8" text-anchor="end" font-weight="bold" font-family="Liberation Sans" transform="translate(192.5,53.75) scale(0.95,1)">74 nm</text>
<polygon points="147.4,60.9 149.5,63 147.4,65.1 145.3,63" fill="none" stroke="#008000" stroke-width="0.9" stroke-linejoin="miter"/>
<text x="0" y="0" font-size="10.8" text-anchor="end" font-weight="bold" font-family="Liberation Sans" transform="translate(192.5,66.6) scale(0.95,1)">125 nm</text>
</g>
<g id="pc">
<polyline points="341.37,128.05 350.06,125.95 384.82,128.49 436.96,130.15 471.72,135.69 506.48,134.69" fill="none" stroke="#000000" stroke-width="1.7" stroke-linejoin="round"/>
<polyline points="332.68,128.72 350.06,123.96 384.82,105.69 436.96,119.42 471.72,116.43 506.48,122.07" fill="none" stroke="#ff0000" stroke-width="1.7" stroke-linejoin="round"/>
<polyline points="332.68,116.98 350.06,101.59 384.82,99.16 436.96,102.48 471.72,100.04 506.48,125.17" fill="none" stroke="#0000ff" stroke-width="1.7" stroke-linejoin="round"/>
<polyline points="332.68,125.51 350.06,105.69 384.82,115.65 436.96,115.65 471.72,106.35 506.48,111.34" fill="none" stroke="#ff00ff" stroke-width="1.7" stroke-linejoin="round"/>
<polyline points="341.37,101.04 350.06,87.65 384.82,92.52 436.96,69.71 471.72,56.65 506.48,56.65" fill="none" stroke="#008000" stroke-width="1.7" stroke-linejoin="round"/>
<line x1="341.37" y1="123.62" x2="341.37" y2="132.48" stroke="#000000" stroke-width="1.0" /><line x1="338.87" y1="123.62" x2="343.87" y2="123.62" stroke="#000000" stroke-width="1.0" /><line x1="338.87" y1="132.48" x2="343.87" y2="132.48" stroke="#000000" stroke-width="1.0" />
<rect x="339.37" y="126.05" width="4" height="4" fill="#fff" stroke="#000000" stroke-width="1.1"/>
<line x1="350.06" y1="122.63" x2="350.06" y2="129.27" stroke="#000000" stroke-width="1.0" /><line x1="347.56" y1="122.63" x2="352.56" y2="122.63" stroke="#000000" stroke-width="1.0" /><line x1="347.56" y1="129.27" x2="352.56" y2="129.27" stroke="#000000" stroke-width="1.0" />
<rect x="348.06" y="123.95" width="4" height="4" fill="#fff" stroke="#000000" stroke-width="1.1"/>
<line x1="384.82" y1="124.62" x2="384.82" y2="132.37" stroke="#000000" stroke-width="1.0" /><line x1="382.32" y1="124.62" x2="387.32" y2="124.62" stroke="#000000" stroke-width="1.0" /><line x1="382.32" y1="132.37" x2="387.32" y2="132.37" stroke="#000000" stroke-width="1.0" />
<rect x="382.82" y="126.49" width="4" height="4" fill="#fff" stroke="#000000" stroke-width="1.1"/>
<line x1="436.96" y1="124.62" x2="436.96" y2="135.69" stroke="#000000" stroke-width="1.0" /><line x1="434.46" y1="124.62" x2="439.46" y2="124.62" stroke="#000000" stroke-width="1.0" /><line x1="434.46" y1="135.69" x2="439.46" y2="135.69" stroke="#000000" stroke-width="1.0" />
<rect x="434.96" y="128.15" width="4" height="4" fill="#fff" stroke="#000000" stroke-width="1.1"/>
<line x1="471.72" y1="133.48" x2="471.72" y2="137.9" stroke="#000000" stroke-width="1.0" /><line x1="469.22" y1="133.48" x2="474.22" y2="133.48" stroke="#000000" stroke-width="1.0" /><line x1="469.22" y1="137.9" x2="474.22" y2="137.9" stroke="#000000" stroke-width="1.0" />
<rect x="469.72" y="133.69" width="4" height="4" fill="#fff" stroke="#000000" stroke-width="1.1"/>
<line x1="506.48" y1="129.71" x2="506.48" y2="139.67" stroke="#000000" stroke-width="1.0" /><line x1="503.98" y1="129.71" x2="508.98" y2="129.71" stroke="#000000" stroke-width="1.0" /><line x1="503.98" y1="139.67" x2="508.98" y2="139.67" stroke="#000000" stroke-width="1.0" />
<rect x="504.48" y="132.69" width="4" height="4" fill="#fff" stroke="#000000" stroke-width="1.1"/>
<line x1="332.68" y1="124.84" x2="332.68" y2="132.59" stroke="#ff0000" stroke-width="1.0" /><line x1="330.18" y1="124.84" x2="335.18" y2="124.84" stroke="#ff0000" stroke-width="1.0" /><line x1="330.18" y1="132.59" x2="335.18" y2="132.59" stroke="#ff0000" stroke-width="1.0" />
<circle cx="332.68" cy="128.72" r="2" fill="#fff" stroke="#ff0000" stroke-width="1.1"/>
<line x1="350.06" y1="117.31" x2="350.06" y2="130.6" stroke="#ff0000" stroke-width="1.0" /><line x1="347.56" y1="117.31" x2="352.56" y2="117.31" stroke="#ff0000" stroke-width="1.0" /><line x1="347.56" y1="130.6" x2="352.56" y2="130.6" stroke="#ff0000" stroke-width="1.0" />
<circle cx="350.06" cy="123.96" r="2" fill="#fff" stroke="#ff0000" stroke-width="1.1"/>
<line x1="384.82" y1="101.26" x2="384.82" y2="110.12" stroke="#ff0000" stroke-width="1.0" /><line x1="382.32" y1="101.26" x2="387.32" y2="101.26" stroke="#ff0000" stroke-width="1.0" /><line x1="382.32" y1="110.12" x2="387.32" y2="110.12" stroke="#ff0000" stroke-width="1.0" />
<circle cx="384.82" cy="105.69" r="2" fill="#fff" stroke="#ff0000" stroke-width="1.1"/>
<line x1="436.96" y1="106.13" x2="436.96" y2="132.7" stroke="#ff0000" stroke-width="1.0" /><line x1="434.46" y1="106.13" x2="439.46" y2="106.13" stroke="#ff0000" stroke-width="1.0" /><line x1="434.46" y1="132.7" x2="439.46" y2="132.7" stroke="#ff0000" stroke-width="1.0" />
<circle cx="436.96" cy="119.42" r="2" fill="#fff" stroke="#ff0000" stroke-width="1.1"/>
<line x1="471.72" y1="90.97" x2="471.72" y2="141.89" stroke="#ff0000" stroke-width="1.0" /><line x1="469.22" y1="90.97" x2="474.22" y2="90.97" stroke="#ff0000" stroke-width="1.0" /><line x1="469.22" y1="141.89" x2="474.22" y2="141.89" stroke="#ff0000" stroke-width="1.0" />
<circle cx="471.72" cy="116.43" r="2" fill="#fff" stroke="#ff0000" stroke-width="1.1"/>
<line x1="506.48" y1="118.75" x2="506.48" y2="125.39" stroke="#ff0000" stroke-width="1.0" /><line x1="503.98" y1="118.75" x2="508.98" y2="118.75" stroke="#ff0000" stroke-width="1.0" /><line x1="503.98" y1="125.39" x2="508.98" y2="125.39" stroke="#ff0000" stroke-width="1.0" />
<circle cx="506.48" cy="122.07" r="2" fill="#fff" stroke="#ff0000" stroke-width="1.1"/>
<line x1="332.68" y1="112.55" x2="332.68" y2="121.41" stroke="#0000ff" stroke-width="1.0" /><line x1="330.18" y1="112.55" x2="335.18" y2="112.55" stroke="#0000ff" stroke-width="1.0" /><line x1="330.18" y1="121.41" x2="335.18" y2="121.41" stroke="#0000ff" stroke-width="1.0" />
<polygon points="332.68,114.45 330.15,118.82 335.21,118.82" fill="#fff" stroke="#0000ff" stroke-width="1.1" stroke-linejoin="miter"/>
<line x1="350.06" y1="91.63" x2="350.06" y2="111.56" stroke="#0000ff" stroke-width="1.0" /><line x1="347.56" y1="91.63" x2="352.56" y2="91.63" stroke="#0000ff" stroke-width="1.0" /><line x1="347.56" y1="111.56" x2="352.56" y2="111.56" stroke="#0000ff" stroke-width="1.0" />
<polygon points="350.06,99.06 347.53,103.43 352.59,103.43" fill="#fff" stroke="#0000ff" stroke-width="1.1" stroke-linejoin="miter"/>
<line x1="384.82" y1="88.09" x2="384.82" y2="110.23" stroke="#0000ff" stroke-width="1.0" /><line x1="382.32" y1="88.09" x2="387.32" y2="88.09" stroke="#0000ff" stroke-width="1.0" /><line x1="382.32" y1="110.23" x2="387.32" y2="110.23" stroke="#0000ff" stroke-width="1.0" />
<polygon points="384.82,96.63 382.29,101 387.35,101" fill="#fff" stroke="#0000ff" stroke-width="1.1" stroke-linejoin="miter"/>
<line x1="436.96" y1="86.98" x2="436.96" y2="117.98" stroke="#0000ff" stroke-width="1.0" /><line x1="434.46" y1="86.98" x2="439.46" y2="86.98" stroke="#0000ff" stroke-width="1.0" /><line x1="434.46" y1="117.98" x2="439.46" y2="117.98" stroke="#0000ff" stroke-width="1.0" />
<polygon points="436.96,99.95 434.43,104.32 439.49,104.32" fill="#fff" stroke="#0000ff" stroke-width="1.1" stroke-linejoin="miter"/>
<line x1="471.72" y1="80.12" x2="471.72" y2="119.97" stroke="#0000ff" stroke-width="1.0" /><line x1="469.22" y1="80.12" x2="474.22" y2="80.12" stroke="#0000ff" stroke-width="1.0" /><line x1="469.22" y1="119.97" x2="474.22" y2="119.97" stroke="#0000ff" stroke-width="1.0" />
<polygon points="471.72,97.51 469.19,101.88 474.25,101.88" fill="#fff" stroke="#0000ff" stroke-width="1.1" stroke-linejoin="miter"/>
<line x1="506.48" y1="121.85" x2="506.48" y2="128.49" stroke="#0000ff" stroke-width="1.0" /><line x1="503.98" y1="121.85" x2="508.98" y2="121.85" stroke="#0000ff" stroke-width="1.0" /><line x1="503.98" y1="128.49" x2="508.98" y2="128.49" stroke="#0000ff" stroke-width="1.0" />
<polygon points="506.48,122.64 503.95,127.01 509.01,127.01" fill="#fff" stroke="#0000ff" stroke-width="1.1" stroke-linejoin="miter"/>
<line x1="332.68" y1="122.18" x2="332.68" y2="128.83" stroke="#ff00ff" stroke-width="1.0" /><line x1="330.18" y1="122.18" x2="335.18" y2="122.18" stroke="#ff00ff" stroke-width="1.0" /><line x1="330.18" y1="128.83" x2="335.18" y2="128.83" stroke="#ff00ff" stroke-width="1.0" />
<polygon points="330.15,125.51 334.52,122.98 334.52,128.04" fill="#fff" stroke="#ff00ff" stroke-width="1.1" stroke-linejoin="miter"/>
<line x1="350.06" y1="97.94" x2="350.06" y2="113.44" stroke="#ff00ff" stroke-width="1.0" /><line x1="347.56" y1="97.94" x2="352.56" y2="97.94" stroke="#ff00ff" stroke-width="1.0" /><line x1="347.56" y1="113.44" x2="352.56" y2="113.44" stroke="#ff00ff" stroke-width="1.0" />
<polygon points="347.53,105.69 351.9,103.16 351.9,108.22" fill="#fff" stroke="#ff00ff" stroke-width="1.1" stroke-linejoin="miter"/>
<line x1="384.82" y1="112.33" x2="384.82" y2="118.97" stroke="#ff00ff" stroke-width="1.0" /><line x1="382.32" y1="112.33" x2="387.32" y2="112.33" stroke="#ff00ff" stroke-width="1.0" /><line x1="382.32" y1="118.97" x2="387.32" y2="118.97" stroke="#ff00ff" stroke-width="1.0" />
<polygon points="382.29,115.65 386.66,113.12 386.66,118.18" fill="#fff" stroke="#ff00ff" stroke-width="1.1" stroke-linejoin="miter"/>
<line x1="436.96" y1="112.33" x2="436.96" y2="118.97" stroke="#ff00ff" stroke-width="1.0" /><line x1="434.46" y1="112.33" x2="439.46" y2="112.33" stroke="#ff00ff" stroke-width="1.0" /><line x1="434.46" y1="118.97" x2="439.46" y2="118.97" stroke="#ff00ff" stroke-width="1.0" />
<polygon points="434.43,115.65 438.8,113.12 438.8,118.18" fill="#fff" stroke="#ff00ff" stroke-width="1.1" stroke-linejoin="miter"/>
<line x1="471.72" y1="103.03" x2="471.72" y2="109.68" stroke="#ff00ff" stroke-width="1.0" /><line x1="469.22" y1="103.03" x2="474.22" y2="103.03" stroke="#ff00ff" stroke-width="1.0" /><line x1="469.22" y1="109.68" x2="474.22" y2="109.68" stroke="#ff00ff" stroke-width="1.0" />
<polygon points="469.19,106.35 473.56,103.82 473.56,108.88" fill="#fff" stroke="#ff00ff" stroke-width="1.1" stroke-linejoin="miter"/>
<line x1="506.48" y1="102.48" x2="506.48" y2="120.19" stroke="#ff00ff" stroke-width="1.0" /><line x1="503.98" y1="102.48" x2="508.98" y2="102.48" stroke="#ff00ff" stroke-width="1.0" /><line x1="503.98" y1="120.19" x2="508.98" y2="120.19" stroke="#ff00ff" stroke-width="1.0" />
<polygon points="503.95,111.34 508.32,108.81 508.32,113.87" fill="#fff" stroke="#ff00ff" stroke-width="1.1" stroke-linejoin="miter"/>
<line x1="341.37" y1="98.83" x2="341.37" y2="103.25" stroke="#008000" stroke-width="1.0" /><line x1="338.87" y1="98.83" x2="343.87" y2="98.83" stroke="#008000" stroke-width="1.0" /><line x1="338.87" y1="103.25" x2="343.87" y2="103.25" stroke="#008000" stroke-width="1.0" />
<polygon points="343.9,101.04 339.53,98.51 339.53,103.57" fill="#fff" stroke="#008000" stroke-width="1.1" stroke-linejoin="miter"/>
<line x1="350.06" y1="82.66" x2="350.06" y2="92.63" stroke="#008000" stroke-width="1.0" /><line x1="347.56" y1="82.66" x2="352.56" y2="82.66" stroke="#008000" stroke-width="1.0" /><line x1="347.56" y1="92.63" x2="352.56" y2="92.63" stroke="#008000" stroke-width="1.0" />
<polygon points="352.59,87.65 348.22,85.12 348.22,90.18" fill="#fff" stroke="#008000" stroke-width="1.1" stroke-linejoin="miter"/>
<line x1="384.82" y1="86.98" x2="384.82" y2="98.05" stroke="#008000" stroke-width="1.0" /><line x1="382.32" y1="86.98" x2="387.32" y2="86.98" stroke="#008000" stroke-width="1.0" /><line x1="382.32" y1="98.05" x2="387.32" y2="98.05" stroke="#008000" stroke-width="1.0" />
<polygon points="387.35,92.52 382.98,89.99 382.98,95.05" fill="#fff" stroke="#008000" stroke-width="1.1" stroke-linejoin="miter"/>
<line x1="436.96" y1="63.07" x2="436.96" y2="76.35" stroke="#008000" stroke-width="1.0" /><line x1="434.46" y1="63.07" x2="439.46" y2="63.07" stroke="#008000" stroke-width="1.0" /><line x1="434.46" y1="76.35" x2="439.46" y2="76.35" stroke="#008000" stroke-width="1.0" />
<polygon points="439.49,69.71 435.12,67.18 435.12,72.24" fill="#fff" stroke="#008000" stroke-width="1.1" stroke-linejoin="miter"/>
<line x1="471.72" y1="52.22" x2="471.72" y2="61.08" stroke="#008000" stroke-width="1.0" /><line x1="469.22" y1="52.22" x2="474.22" y2="52.22" stroke="#008000" stroke-width="1.0" /><line x1="469.22" y1="61.08" x2="474.22" y2="61.08" stroke="#008000" stroke-width="1.0" />
<polygon points="474.25,56.65 469.88,54.12 469.88,59.18" fill="#fff" stroke="#008000" stroke-width="1.1" stroke-linejoin="miter"/>
<line x1="506.48" y1="38.94" x2="506.48" y2="74.36" stroke="#008000" stroke-width="1.0" /><line x1="503.98" y1="38.94" x2="508.98" y2="38.94" stroke="#008000" stroke-width="1.0" /><line x1="503.98" y1="74.36" x2="508.98" y2="74.36" stroke="#008000" stroke-width="1.0" />
<polygon points="509.01,56.65 504.64,54.12 504.64,59.18" fill="#fff" stroke="#008000" stroke-width="1.1" stroke-linejoin="miter"/>
<rect x="316" y="1" width="207.9" height="164.85" rx="0.8" fill="none" stroke="#000" stroke-width="1.9" stroke-linejoin="round"/>
<line x1="332.68" y1="165.85" x2="332.68" y2="162.65" stroke="#000" stroke-width="1.4" />
<line x1="332.68" y1="1" x2="332.68" y2="4.2" stroke="#000" stroke-width="1.4" />
<line x1="367.44" y1="165.85" x2="367.44" y2="162.65" stroke="#000" stroke-width="1.4" />
<line x1="367.44" y1="1" x2="367.44" y2="4.2" stroke="#000" stroke-width="1.4" />
<line x1="402.2" y1="165.85" x2="402.2" y2="162.65" stroke="#000" stroke-width="1.4" />
<line x1="402.2" y1="1" x2="402.2" y2="4.2" stroke="#000" stroke-width="1.4" />
<line x1="436.96" y1="165.85" x2="436.96" y2="162.65" stroke="#000" stroke-width="1.4" />
<line x1="436.96" y1="1" x2="436.96" y2="4.2" stroke="#000" stroke-width="1.4" />
<line x1="471.72" y1="165.85" x2="471.72" y2="162.65" stroke="#000" stroke-width="1.4" />
<line x1="471.72" y1="1" x2="471.72" y2="4.2" stroke="#000" stroke-width="1.4" />
<line x1="506.48" y1="165.85" x2="506.48" y2="162.65" stroke="#000" stroke-width="1.4" />
<line x1="506.48" y1="1" x2="506.48" y2="4.2" stroke="#000" stroke-width="1.4" />
<line x1="350.06" y1="165.85" x2="350.06" y2="164.05" stroke="#000" stroke-width="1.2" />
<line x1="350.06" y1="1" x2="350.06" y2="2.8" stroke="#000" stroke-width="1.2" />
<line x1="384.82" y1="165.85" x2="384.82" y2="164.05" stroke="#000" stroke-width="1.2" />
<line x1="384.82" y1="1" x2="384.82" y2="2.8" stroke="#000" stroke-width="1.2" />
<line x1="419.58" y1="165.85" x2="419.58" y2="164.05" stroke="#000" stroke-width="1.2" />
<line x1="419.58" y1="1" x2="419.58" y2="2.8" stroke="#000" stroke-width="1.2" />
<line x1="454.34" y1="165.85" x2="454.34" y2="164.05" stroke="#000" stroke-width="1.2" />
<line x1="454.34" y1="1" x2="454.34" y2="2.8" stroke="#000" stroke-width="1.2" />
<line x1="489.1" y1="165.85" x2="489.1" y2="164.05" stroke="#000" stroke-width="1.2" />
<line x1="489.1" y1="1" x2="489.1" y2="2.8" stroke="#000" stroke-width="1.2" />
<line x1="316" y1="138.9" x2="319.2" y2="138.9" stroke="#000" stroke-width="1.4" />
<line x1="523.9" y1="138.9" x2="520.7" y2="138.9" stroke="#000" stroke-width="1.4" />
<line x1="316" y1="83.55" x2="319.2" y2="83.55" stroke="#000" stroke-width="1.4" />
<line x1="523.9" y1="83.55" x2="520.7" y2="83.55" stroke="#000" stroke-width="1.4" />
<line x1="316" y1="28.2" x2="319.2" y2="28.2" stroke="#000" stroke-width="1.4" />
<line x1="523.9" y1="28.2" x2="520.7" y2="28.2" stroke="#000" stroke-width="1.4" />
<line x1="316" y1="111.23" x2="317.8" y2="111.23" stroke="#000" stroke-width="1.2" />
<line x1="523.9" y1="111.23" x2="522.1" y2="111.23" stroke="#000" stroke-width="1.2" />
<line x1="316" y1="55.88" x2="317.8" y2="55.88" stroke="#000" stroke-width="1.2" />
<line x1="523.9" y1="55.88" x2="522.1" y2="55.88" stroke="#000" stroke-width="1.2" />
<text x="0" y="0" font-size="12.6" text-anchor="end" font-weight="bold" font-family="Liberation Sans" transform="translate(312.2,142.9) scale(0.92,1)">0.5</text>
<text x="0" y="0" font-size="12.6" text-anchor="end" font-weight="bold" font-family="Liberation Sans" transform="translate(312.2,87.55) scale(0.92,1)">1.0</text>
<text x="0" y="0" font-size="12.6" text-anchor="end" font-weight="bold" font-family="Liberation Sans" transform="translate(312.2,32.2) scale(0.92,1)">1.5</text>
<text x="332.68" y="178.6" font-size="11" text-anchor="middle" font-weight="bold" font-family="Liberation Sans" >2</text>
<text x="367.44" y="178.6" font-size="11" text-anchor="middle" font-weight="bold" font-family="Liberation Sans" >4</text>
<text x="402.2" y="178.6" font-size="11" text-anchor="middle" font-weight="bold" font-family="Liberation Sans" >6</text>
<text x="436.96" y="178.6" font-size="11" text-anchor="middle" font-weight="bold" font-family="Liberation Sans" >8</text>
<text x="471.72" y="178.6" font-size="11" text-anchor="middle" font-weight="bold" font-family="Liberation Sans" >10</text>
<text x="506.48" y="178.6" font-size="11" text-anchor="middle" font-weight="bold" font-family="Liberation Sans" >12</text>
<text x="419.3" y="191" font-size="11.3" text-anchor="middle" font-weight="bold" font-family="Liberation Sans" >T&#160;&#160;(K)</text>
<text x="273" y="17.6" font-size="17.5" text-anchor="start" font-weight="bold" font-family="Liberation Sans" stroke="#000" stroke-width="0.5">(c)</text>
<text x="0" y="0" font-size="19.5" text-anchor="middle" font-weight="normal" font-family="Liberation Sans" transform="translate(291.1,82.8) rotate(-90)" stroke="#000" stroke-width="0.6">α</text>
<line x1="334.6" y1="11.3" x2="359" y2="11.3" stroke="#000000" stroke-width="1.7" />
<rect x="345.2" y="9.3" width="4" height="4" fill="#fff" stroke="#000000" stroke-width="1.1"/>
<text x="0" y="0" font-size="10.8" text-anchor="end" font-weight="bold" font-family="Liberation Sans" transform="translate(398,15.4) scale(0.95,1)">10 nm</text>
<line x1="334.6" y1="24.9" x2="359" y2="24.9" stroke="#ff0000" stroke-width="1.7" />
<circle cx="347.2" cy="24.9" r="2" fill="#fff" stroke="#ff0000" stroke-width="1.1"/>
<text x="0" y="0" font-size="10.8" text-anchor="end" font-weight="bold" font-family="Liberation Sans" transform="translate(398,29) scale(0.95,1)">30 nm</text>
<line x1="334.6" y1="38.5" x2="359" y2="38.5" stroke="#0000ff" stroke-width="1.7" />
<polygon points="347.2,36.3 345,40.1 349.4,40.1" fill="#fff" stroke="#0000ff" stroke-width="1.1" stroke-linejoin="miter"/>
<text x="0" y="0" font-size="10.8" text-anchor="end" font-weight="bold" font-family="Liberation Sans" transform="translate(398,42.6) scale(0.95,1)">45 nm</text>
<line x1="334.6" y1="52.1" x2="359" y2="52.1" stroke="#ff00ff" stroke-width="1.7" />
<polygon points="345,52.1 348.8,49.9 348.8,54.3" fill="#fff" stroke="#ff00ff" stroke-width="1.1" stroke-linejoin="miter"/>
<text x="0" y="0" font-size="10.8" text-anchor="end" font-weight="bold" font-family="Liberation Sans" transform="translate(398,56.2) scale(0.95,1)">74 nm</text>
<line x1="334.6" y1="65.7" x2="359" y2="65.7" stroke="#008000" stroke-width="1.7" />
<polygon points="349.4,65.7 345.6,63.5 345.6,67.9" fill="#fff" stroke="#008000" stroke-width="1.1" stroke-linejoin="miter"/>
<text x="0" y="0" font-size="10.8" text-anchor="end" font-weight="bold" font-family="Liberation Sans" transform="translate(398,69.8) scale(0.95,1)">125 nm</text>
</g>
<g id="pb">
<polyline points="77.97,347.25 78.72,346.85 79.46,346.45 80.21,346.04 80.96,345.63 81.7,345.22 82.45,344.81 83.19,344.39 83.94,343.96 84.69,343.54 85.43,343.11 86.18,342.67 86.92,342.24 87.67,341.8 88.42,341.35 89.16,340.9 89.91,340.45 90.65,339.99 91.4,339.53 92.15,339.06 92.89,338.59 93.64,338.11 94.38,337.63 95.13,337.15 95.88,336.66 96.62,336.17 97.37,335.67 98.12,335.16 98.86,334.65 99.61,334.14 100.35,333.62 101.1,333.09 101.85,332.56 102.59,332.02 103.34,331.48 104.08,330.93 104.83,330.37 105.58,329.81 106.32,329.24 107.07,328.67 107.81,328.08 108.56,327.5 109.31,326.9 110.05,326.3 110.8,325.69 111.54,325.07 112.29,324.44 113.04,323.81 113.78,323.16 114.53,322.51 115.27,321.85 116.02,321.18 116.77,320.51 117.51,319.82 118.26,319.12 119.01,318.42 119.75,317.7 120.5,316.97 121.24,316.23 121.99,315.48 122.74,314.72 123.48,313.95 124.23,313.16 124.97,312.36 125.72,311.55 126.47,310.73 127.21,309.89 127.96,309.03 128.7,308.17 129.45,307.28 130.2,306.38 130.94,305.46 131.69,304.53 132.43,303.58 133.18,302.61 133.93,301.62 134.67,300.61 135.42,299.57 136.16,298.52 136.91,297.44 137.66,296.34 138.4,295.22 139.15,294.07 139.9,292.89 140.64,291.68 141.39,290.44 142.13,289.17 142.88,287.87 143.63,286.53 144.37,285.15 145.12,283.74 145.86,282.28 146.61,280.78 147.36,279.23 148.1,277.64 148.85,275.99 149.59,274.28 150.34,272.51 151.09,270.68 151.83,268.78 152.58,266.8 153.32,264.75 154.07,262.6 154.82,260.36 155.56,258.01 156.31,255.55 157.05,252.96 157.8,250.23 158.55,247.35 159.29,244.3 160.04,241.06 160.79,237.6 161.53,233.9 162.28,229.93 163.02,225.66 163.77,221.06 164.52,216.1 165.26,210.84 166.01,205.42 166.75,200.51 167.5,198.1 168.25,200.51 168.99,205.42 169.74,210.84 170.48,216.1 171.23,221.06 171.98,225.66 172.72,229.93 173.47,233.9 174.21,237.6 174.96,241.06 175.71,244.3 176.45,247.35 177.2,250.23 177.95,252.96 178.69,255.55 179.44,258.01 180.18,260.36 180.93,262.6 181.68,264.75 182.42,266.8 183.17,268.78 183.91,270.68 184.66,272.51 185.41,274.28 186.15,275.99 186.9,277.64 187.64,279.23 188.39,280.78 189.14,282.28 189.88,283.74 190.63,285.15 191.37,286.53 192.12,287.87 192.87,289.17 193.61,290.44 194.36,291.68 195.1,292.89 195.85,294.07 196.6,295.22 197.34,296.34 198.09,297.44 198.84,298.52 199.58,299.57 200.33,300.61 201.07,301.62 201.82,302.61 202.57,303.58 203.31,304.53 204.06,305.46 204.8,306.38 205.55,307.28 206.3,308.17 207.04,309.03 207.79,309.89 208.53,310.73 209.28,311.55 210.03,312.36 210.77,313.16 211.52,313.95 212.26,314.72 213.01,315.48 213.76,316.23 214.5,316.97 215.25,317.7 215.99,318.42 216.74,319.12 217.49,319.82 218.23,320.51 218.98,321.18 219.73,321.85 220.47,322.51 221.22,323.16 221.96,323.81 222.71,324.44 223.46,325.07 224.2,325.69 224.95,326.3 225.69,326.9 226.44,327.5 227.19,328.08 227.93,328.67 228.68,329.24 229.42,329.81 230.17,330.37 230.92,330.93 231.66,331.48 232.41,332.02 233.15,332.56 233.9,333.09 234.65,333.62 235.39,334.14 236.14,334.65 236.88,335.16 237.63,335.67 238.38,336.17 239.12,336.66 239.87,337.15 240.62,337.63 241.36,338.11 242.11,338.59 242.85,339.06 243.6,339.53 244.35,339.99 245.09,340.45 245.84,340.9 246.58,341.35 247.33,341.8 248.08,342.24 248.82,342.67 249.57,343.11 250.31,343.54 251.06,343.96 251.81,344.39 252.55,344.81 253.3,345.22 254.04,345.63 254.79,346.04 255.54,346.45 256.28,346.85 257.03,347.25" fill="none" stroke="#ff0000" stroke-width="1.5" stroke-linejoin="round"/>
<polyline points="77.97,328.3 78.72,327.86 79.46,327.41 80.21,326.95 80.96,326.5 81.7,326.03 82.45,325.57 83.19,325.1 83.94,324.63 84.69,324.15 85.43,323.67 86.18,323.19 86.92,322.7 87.67,322.21 88.42,321.71 89.16,321.21 89.91,320.71 90.65,320.2 91.4,319.69 92.15,319.17 92.89,318.64 93.64,318.12 94.38,317.58 95.13,317.04 95.88,316.5 96.62,315.95 97.37,315.4 98.12,314.84 98.86,314.28 99.61,313.71 100.35,313.13 101.1,312.55 101.85,311.96 102.59,311.37 103.34,310.77 104.08,310.17 104.83,309.55 105.58,308.94 106.32,308.31 107.07,307.68 107.81,307.04 108.56,306.39 109.31,305.74 110.05,305.08 110.8,304.41 111.54,303.73 112.29,303.05 113.04,302.36 113.78,301.66 114.53,300.95 115.27,300.23 116.02,299.5 116.77,298.77 117.51,298.02 118.26,297.26 119.01,296.5 119.75,295.72 120.5,294.94 121.24,294.14 121.99,293.33 122.74,292.51 123.48,291.68 124.23,290.84 124.97,289.98 125.72,289.11 126.47,288.23 127.21,287.34 127.96,286.43 128.7,285.5 129.45,284.56 130.2,283.61 130.94,282.64 131.69,281.65 132.43,280.65 133.18,279.63 133.93,278.59 134.67,277.53 135.42,276.46 136.16,275.36 136.91,274.24 137.66,273.1 138.4,271.94 139.15,270.75 139.9,269.54 140.64,268.3 141.39,267.04 142.13,265.75 142.88,264.43 143.63,263.08 144.37,261.7 145.12,260.29 145.86,258.84 146.61,257.36 147.36,255.83 148.1,254.27 148.85,252.67 149.59,251.02 150.34,249.33 151.09,247.59 151.83,245.8 152.58,243.95 153.32,242.05 154.07,240.09 154.82,238.07 155.56,235.98 156.31,233.82 157.05,231.58 157.8,229.28 158.55,226.89 159.29,224.42 160.04,221.87 160.79,219.24 161.53,216.54 162.28,213.77 163.02,210.95 163.77,208.12 164.52,205.33 165.26,202.7 166.01,200.41 166.75,198.74 167.5,198.1 168.25,198.74 168.99,200.41 169.74,202.7 170.48,205.33 171.23,208.12 171.98,210.95 172.72,213.77 173.47,216.54 174.21,219.24 174.96,221.87 175.71,224.42 176.45,226.89 177.2,229.28 177.95,231.58 178.69,233.82 179.44,235.98 180.18,238.07 180.93,240.09 181.68,242.05 182.42,243.95 183.17,245.8 183.91,247.59 184.66,249.33 185.41,251.02 186.15,252.67 186.9,254.27 187.64,255.83 188.39,257.36 189.14,258.84 189.88,260.29 190.63,261.7 191.37,263.08 192.12,264.43 192.87,265.75 193.61,267.04 194.36,268.3 195.1,269.54 195.85,270.75 196.6,271.94 197.34,273.1 198.09,274.24 198.84,275.36 199.58,276.46 200.33,277.53 201.07,278.59 201.82,279.63 202.57,280.65 203.31,281.65 204.06,282.64 204.8,283.61 205.55,284.56 206.3,285.5 207.04,286.43 207.79,287.34 208.53,288.23 209.28,289.11 210.03,289.98 210.77,290.84 211.52,291.68 212.26,292.51 213.01,293.33 213.76,294.14 214.5,294.94 215.25,295.72 215.99,296.5 216.74,297.26 217.49,298.02 218.23,298.77 218.98,299.5 219.73,300.23 220.47,300.95 221.22,301.66 221.96,302.36 222.71,303.05 223.46,303.73 224.2,304.41 224.95,305.08 225.69,305.74 226.44,306.39 227.19,307.04 227.93,307.68 228.68,308.31 229.42,308.94 230.17,309.55 230.92,310.17 231.66,310.77 232.41,311.37 233.15,311.96 233.9,312.55 234.65,313.13 235.39,313.71 236.14,314.28 236.88,314.84 237.63,315.4 238.38,315.95 239.12,316.5 239.87,317.04 240.62,317.58 241.36,318.12 242.11,318.64 242.85,319.17 243.6,319.69 244.35,320.2 245.09,320.71 245.84,321.21 246.58,321.71 247.33,322.21 248.08,322.7 248.82,323.19 249.57,323.67 250.31,324.15 251.06,324.63 251.81,325.1 252.55,325.57 253.3,326.03 254.04,326.5 254.79,326.95 255.54,327.41 256.28,327.86 257.03,328.3" fill="none" stroke="#ff0000" stroke-width="1.5" stroke-linejoin="round"/>
<polyline points="79.06,289.98 79.79,289.56 80.53,289.13 81.27,288.7 82,288.27 82.74,287.84 83.48,287.4 84.22,286.96 84.95,286.52 85.69,286.07 86.43,285.62 87.16,285.16 87.9,284.71 88.64,284.25 89.37,283.78 90.11,283.31 90.85,282.84 91.59,282.37 92.32,281.89 93.06,281.41 93.8,280.92 94.53,280.43 95.27,279.93 96.01,279.43 96.74,278.93 97.48,278.42 98.22,277.91 98.96,277.4 99.69,276.88 100.43,276.35 101.17,275.82 101.9,275.29 102.64,274.75 103.38,274.21 104.12,273.66 104.85,273.11 105.59,272.55 106.33,271.99 107.06,271.42 107.8,270.84 108.54,270.26 109.27,269.68 110.01,269.09 110.75,268.49 111.49,267.89 112.22,267.28 112.96,266.67 113.7,266.05 114.43,265.42 115.17,264.79 115.91,264.15 116.64,263.5 117.38,262.85 118.12,262.19 118.86,261.52 119.59,260.85 120.33,260.17 121.07,259.48 121.8,258.78 122.54,258.08 123.28,257.36 124.02,256.64 124.75,255.91 125.49,255.18 126.23,254.43 126.96,253.67 127.7,252.91 128.44,252.13 129.17,251.35 129.91,250.55 130.65,249.75 131.39,248.94 132.12,248.11 132.86,247.28 133.6,246.43 134.33,245.57 135.07,244.7 135.81,243.82 136.54,242.93 137.28,242.02 138.02,241.1 138.76,240.17 139.49,239.23 140.23,238.27 140.97,237.3 141.7,236.31 142.44,235.31 143.18,234.29 143.91,233.26 144.65,232.22 145.39,231.16 146.13,230.08 146.86,228.99 147.6,227.88 148.34,226.75 149.07,225.61 149.81,224.45 150.55,223.27 151.29,222.08 152.02,220.87 152.76,219.65 153.5,218.41 154.23,217.15 154.97,215.88 155.71,214.61 156.44,213.32 157.18,212.02 157.92,210.72 158.66,209.41 159.39,208.12 160.13,206.83 160.87,205.56 161.6,204.33 162.34,203.14 163.08,202.01 163.81,200.96 164.55,200.03 165.29,199.23 166.03,198.62 166.76,198.23 167.5,198.1 168.24,198.23 168.97,198.62 169.71,199.23 170.45,200.03 171.19,200.96 171.92,202.01 172.66,203.14 173.4,204.33 174.13,205.56 174.87,206.83 175.61,208.12 176.34,209.41 177.08,210.72 177.82,212.02 178.56,213.32 179.29,214.61 180.03,215.88 180.77,217.15 181.5,218.41 182.24,219.65 182.98,220.87 183.71,222.08 184.45,223.27 185.19,224.45 185.93,225.61 186.66,226.75 187.4,227.88 188.14,228.99 188.87,230.08 189.61,231.16 190.35,232.22 191.09,233.26 191.82,234.29 192.56,235.31 193.3,236.31 194.03,237.3 194.77,238.27 195.51,239.23 196.24,240.17 196.98,241.1 197.72,242.02 198.46,242.93 199.19,243.82 199.93,244.7 200.67,245.57 201.4,246.43 202.14,247.28 202.88,248.11 203.61,248.94 204.35,249.75 205.09,250.55 205.83,251.35 206.56,252.13 207.3,252.91 208.04,253.67 208.77,254.43 209.51,255.18 210.25,255.91 210.98,256.64 211.72,257.36 212.46,258.08 213.2,258.78 213.93,259.48 214.67,260.17 215.41,260.85 216.14,261.52 216.88,262.19 217.62,262.85 218.36,263.5 219.09,264.15 219.83,264.79 220.57,265.42 221.3,266.05 222.04,266.67 222.78,267.28 223.51,267.89 224.25,268.49 224.99,269.09 225.73,269.68 226.46,270.26 227.2,270.84 227.94,271.42 228.67,271.99 229.41,272.55 230.15,273.11 230.88,273.66 231.62,274.21 232.36,274.75 233.1,275.29 233.83,275.82 234.57,276.35 235.31,276.88 236.04,277.4 236.78,277.91 237.52,278.42 238.26,278.93 238.99,279.43 239.73,279.93 240.47,280.43 241.2,280.92 241.94,281.41 242.68,281.89 243.41,282.37 244.15,282.84 244.89,283.31 245.63,283.78 246.36,284.25 247.1,284.71 247.84,285.16 248.57,285.62 249.31,286.07 250.05,286.52 250.78,286.96 251.52,287.4 252.26,287.84 253,288.27 253.73,288.7 254.47,289.13 255.21,289.56 255.94,289.98" fill="none" stroke="#ff0000" stroke-width="1.5" stroke-linejoin="round"/>
<polyline points="77.97,262.59 78.72,262.24 79.46,261.89 80.21,261.54 80.96,261.18 81.7,260.83 82.45,260.47 83.19,260.11 83.94,259.74 84.69,259.37 85.43,259.01 86.18,258.63 86.92,258.26 87.67,257.88 88.42,257.5 89.16,257.12 89.91,256.74 90.65,256.35 91.4,255.96 92.15,255.57 92.89,255.17 93.64,254.77 94.38,254.37 95.13,253.97 95.88,253.56 96.62,253.15 97.37,252.74 98.12,252.32 98.86,251.9 99.61,251.48 100.35,251.05 101.1,250.62 101.85,250.19 102.59,249.76 103.34,249.32 104.08,248.87 104.83,248.43 105.58,247.98 106.32,247.52 107.07,247.07 107.81,246.61 108.56,246.14 109.31,245.67 110.05,245.2 110.8,244.73 111.54,244.24 112.29,243.76 113.04,243.27 113.78,242.78 114.53,242.28 115.27,241.78 116.02,241.27 116.77,240.76 117.51,240.25 118.26,239.73 119.01,239.21 119.75,238.68 120.5,238.14 121.24,237.6 121.99,237.06 122.74,236.51 123.48,235.96 124.23,235.4 124.97,234.84 125.72,234.27 126.47,233.69 127.21,233.11 127.96,232.52 128.7,231.93 129.45,231.33 130.2,230.73 130.94,230.12 131.69,229.51 132.43,228.88 133.18,228.26 133.93,227.62 134.67,226.98 135.42,226.33 136.16,225.68 136.91,225.02 137.66,224.36 138.4,223.68 139.15,223 139.9,222.32 140.64,221.63 141.39,220.93 142.13,220.22 142.88,219.51 143.63,218.79 144.37,218.07 145.12,217.34 145.86,216.6 146.61,215.86 147.36,215.11 148.1,214.35 148.85,213.6 149.59,212.83 150.34,212.06 151.09,211.29 151.83,210.52 152.58,209.75 153.32,208.97 154.07,208.2 154.82,207.42 155.56,206.65 156.31,205.89 157.05,205.13 157.8,204.39 158.55,203.66 159.29,202.94 160.04,202.25 160.79,201.58 161.53,200.95 162.28,200.36 163.02,199.82 163.77,199.33 164.52,198.91 165.26,198.57 166.01,198.31 166.75,198.15 167.5,198.1 168.25,198.15 168.99,198.31 169.74,198.57 170.48,198.91 171.23,199.33 171.98,199.82 172.72,200.36 173.47,200.95 174.21,201.58 174.96,202.25 175.71,202.94 176.45,203.66 177.2,204.39 177.95,205.13 178.69,205.89 179.44,206.65 180.18,207.42 180.93,208.2 181.68,208.97 182.42,209.75 183.17,210.52 183.91,211.29 184.66,212.06 185.41,212.83 186.15,213.6 186.9,214.35 187.64,215.11 188.39,215.86 189.14,216.6 189.88,217.34 190.63,218.07 191.37,218.79 192.12,219.51 192.87,220.22 193.61,220.93 194.36,221.63 195.1,222.32 195.85,223 196.6,223.68 197.34,224.36 198.09,225.02 198.84,225.68 199.58,226.33 200.33,226.98 201.07,227.62 201.82,228.26 202.57,228.88 203.31,229.51 204.06,230.12 204.8,230.73 205.55,231.33 206.3,231.93 207.04,232.52 207.79,233.11 208.53,233.69 209.28,234.27 210.03,234.84 210.77,235.4 211.52,235.96 212.26,236.51 213.01,237.06 213.76,237.6 214.5,238.14 215.25,238.68 215.99,239.21 216.74,239.73 217.49,240.25 218.23,240.76 218.98,241.27 219.73,241.78 220.47,242.28 221.22,242.78 221.96,243.27 222.71,243.76 223.46,244.24 224.2,244.73 224.95,245.2 225.69,245.67 226.44,246.14 227.19,246.61 227.93,247.07 228.68,247.52 229.42,247.98 230.17,248.43 230.92,248.87 231.66,249.32 232.41,249.76 233.15,250.19 233.9,250.62 234.65,251.05 235.39,251.48 236.14,251.9 236.88,252.32 237.63,252.74 238.38,253.15 239.12,253.56 239.87,253.97 240.62,254.37 241.36,254.77 242.11,255.17 242.85,255.57 243.6,255.96 244.35,256.35 245.09,256.74 245.84,257.12 246.58,257.5 247.33,257.88 248.08,258.26 248.82,258.63 249.57,259.01 250.31,259.37 251.06,259.74 251.81,260.11 252.55,260.47 253.3,260.83 254.04,261.18 254.79,261.54 255.54,261.89 256.28,262.24 257.03,262.59" fill="none" stroke="#ff0000" stroke-width="1.5" stroke-linejoin="round"/>
<polyline points="77.97,244.66 78.72,244.35 79.46,244.04 80.21,243.72 80.96,243.41 81.7,243.09 82.45,242.77 83.19,242.45 83.94,242.12 84.69,241.8 85.43,241.47 86.18,241.15 86.92,240.82 87.67,240.48 88.42,240.15 89.16,239.82 89.91,239.48 90.65,239.14 91.4,238.8 92.15,238.46 92.89,238.11 93.64,237.77 94.38,237.42 95.13,237.07 95.88,236.71 96.62,236.36 97.37,236 98.12,235.65 98.86,235.28 99.61,234.92 100.35,234.56 101.1,234.19 101.85,233.82 102.59,233.45 103.34,233.08 104.08,232.7 104.83,232.33 105.58,231.95 106.32,231.56 107.07,231.18 107.81,230.79 108.56,230.41 109.31,230.01 110.05,229.62 110.8,229.23 111.54,228.83 112.29,228.43 113.04,228.02 113.78,227.62 114.53,227.21 115.27,226.8 116.02,226.39 116.77,225.98 117.51,225.56 118.26,225.14 119.01,224.72 119.75,224.29 120.5,223.87 121.24,223.44 121.99,223.01 122.74,222.57 123.48,222.14 124.23,221.7 124.97,221.26 125.72,220.81 126.47,220.36 127.21,219.92 127.96,219.47 128.7,219.01 129.45,218.56 130.2,218.1 130.94,217.64 131.69,217.18 132.43,216.71 133.18,216.24 133.93,215.78 134.67,215.31 135.42,214.83 136.16,214.36 136.91,213.88 137.66,213.4 138.4,212.93 139.15,212.45 139.9,211.96 140.64,211.48 141.39,211 142.13,210.51 142.88,210.03 143.63,209.55 144.37,209.06 145.12,208.58 145.86,208.1 146.61,207.61 147.36,207.13 148.1,206.66 148.85,206.18 149.59,205.71 150.34,205.24 151.09,204.77 151.83,204.31 152.58,203.86 153.32,203.41 154.07,202.97 154.82,202.54 155.56,202.12 156.31,201.71 157.05,201.31 157.8,200.93 158.55,200.56 159.29,200.21 160.04,199.88 160.79,199.57 161.53,199.28 162.28,199.02 163.02,198.79 163.77,198.58 164.52,198.41 165.26,198.28 166.01,198.18 166.75,198.12 167.5,198.1 168.25,198.12 168.99,198.18 169.74,198.28 170.48,198.41 171.23,198.58 171.98,198.79 172.72,199.02 173.47,199.28 174.21,199.57 174.96,199.88 175.71,200.21 176.45,200.56 177.2,200.93 177.95,201.31 178.69,201.71 179.44,202.12 180.18,202.54 180.93,202.97 181.68,203.41 182.42,203.86 183.17,204.31 183.91,204.77 184.66,205.24 185.41,205.71 186.15,206.18 186.9,206.66 187.64,207.13 188.39,207.61 189.14,208.1 189.88,208.58 190.63,209.06 191.37,209.55 192.12,210.03 192.87,210.51 193.61,211 194.36,211.48 195.1,211.96 195.85,212.45 196.6,212.93 197.34,213.4 198.09,213.88 198.84,214.36 199.58,214.83 200.33,215.31 201.07,215.78 201.82,216.24 202.57,216.71 203.31,217.18 204.06,217.64 204.8,218.1 205.55,218.56 206.3,219.01 207.04,219.47 207.79,219.92 208.53,220.36 209.28,220.81 210.03,221.26 210.77,221.7 211.52,222.14 212.26,222.57 213.01,223.01 213.76,223.44 214.5,223.87 215.25,224.29 215.99,224.72 216.74,225.14 217.49,225.56 218.23,225.98 218.98,226.39 219.73,226.8 220.47,227.21 221.22,227.62 221.96,228.02 222.71,228.43 223.46,228.83 224.2,229.23 224.95,229.62 225.69,230.01 226.44,230.41 227.19,230.79 227.93,231.18 228.68,231.56 229.42,231.95 230.17,232.33 230.92,232.7 231.66,233.08 232.41,233.45 233.15,233.82 233.9,234.19 234.65,234.56 235.39,234.92 236.14,235.28 236.88,235.65 237.63,236 238.38,236.36 239.12,236.71 239.87,237.07 240.62,237.42 241.36,237.77 242.11,238.11 242.85,238.46 243.6,238.8 244.35,239.14 245.09,239.48 245.84,239.82 246.58,240.15 247.33,240.48 248.08,240.82 248.82,241.15 249.57,241.47 250.31,241.8 251.06,242.12 251.81,242.45 252.55,242.77 253.3,243.09 254.04,243.41 254.79,243.72 255.54,244.04 256.28,244.35 257.03,244.66" fill="none" stroke="#ff0000" stroke-width="1.5" stroke-linejoin="round"/>
<polyline points="71.19,235.39 71.99,235.12 72.79,234.85 73.6,234.58 74.4,234.31 75.2,234.04 76,233.76 76.81,233.49 77.61,233.21 78.41,232.93 79.21,232.65 80.02,232.37 80.82,232.08 81.62,231.8 82.42,231.51 83.23,231.23 84.03,230.94 84.83,230.65 85.64,230.36 86.44,230.06 87.24,229.77 88.04,229.47 88.85,229.18 89.65,228.88 90.45,228.58 91.25,228.28 92.06,227.97 92.86,227.67 93.66,227.36 94.46,227.06 95.27,226.75 96.07,226.44 96.87,226.12 97.67,225.81 98.48,225.5 99.28,225.18 100.08,224.86 100.88,224.54 101.69,224.22 102.49,223.9 103.29,223.57 104.09,223.25 104.9,222.92 105.7,222.59 106.5,222.26 107.31,221.93 108.11,221.59 108.91,221.26 109.71,220.92 110.52,220.58 111.32,220.24 112.12,219.9 112.92,219.56 113.73,219.21 114.53,218.86 115.33,218.52 116.13,218.17 116.94,217.81 117.74,217.46 118.54,217.11 119.34,216.75 120.15,216.39 120.95,216.04 121.75,215.68 122.55,215.31 123.36,214.95 124.16,214.59 124.96,214.22 125.77,213.86 126.57,213.49 127.37,213.12 128.17,212.75 128.98,212.38 129.78,212.01 130.58,211.63 131.38,211.26 132.19,210.89 132.99,210.51 133.79,210.13 134.59,209.76 135.4,209.38 136.2,209.01 137,208.63 137.8,208.25 138.61,207.88 139.41,207.5 140.21,207.13 141.01,206.75 141.82,206.38 142.62,206.01 143.42,205.64 144.22,205.27 145.03,204.91 145.83,204.55 146.63,204.19 147.44,203.83 148.24,203.48 149.04,203.13 149.84,202.79 150.65,202.45 151.45,202.11 152.25,201.79 153.05,201.47 153.86,201.16 154.66,200.86 155.46,200.57 156.26,200.29 157.07,200.02 157.87,199.76 158.67,199.52 159.47,199.29 160.28,199.08 161.08,198.88 161.88,198.71 162.68,198.55 163.49,198.42 164.29,198.3 165.09,198.22 165.89,198.15 166.7,198.11 167.5,198.1 168.3,198.11 169.11,198.15 169.91,198.22 170.71,198.3 171.51,198.42 172.32,198.55 173.12,198.71 173.92,198.88 174.72,199.08 175.53,199.29 176.33,199.52 177.13,199.76 177.93,200.02 178.74,200.29 179.54,200.57 180.34,200.86 181.14,201.16 181.95,201.47 182.75,201.79 183.55,202.11 184.35,202.45 185.16,202.79 185.96,203.13 186.76,203.48 187.56,203.83 188.37,204.19 189.17,204.55 189.97,204.91 190.78,205.27 191.58,205.64 192.38,206.01 193.18,206.38 193.99,206.75 194.79,207.13 195.59,207.5 196.39,207.88 197.2,208.25 198,208.63 198.8,209.01 199.6,209.38 200.41,209.76 201.21,210.13 202.01,210.51 202.81,210.89 203.62,211.26 204.42,211.63 205.22,212.01 206.02,212.38 206.83,212.75 207.63,213.12 208.43,213.49 209.23,213.86 210.04,214.22 210.84,214.59 211.64,214.95 212.45,215.31 213.25,215.68 214.05,216.04 214.85,216.39 215.66,216.75 216.46,217.11 217.26,217.46 218.06,217.81 218.87,218.17 219.67,218.52 220.47,218.86 221.27,219.21 222.08,219.56 222.88,219.9 223.68,220.24 224.48,220.58 225.29,220.92 226.09,221.26 226.89,221.59 227.69,221.93 228.5,222.26 229.3,222.59 230.1,222.92 230.91,223.25 231.71,223.57 232.51,223.9 233.31,224.22 234.12,224.54 234.92,224.86 235.72,225.18 236.52,225.5 237.33,225.81 238.13,226.12 238.93,226.44 239.73,226.75 240.54,227.06 241.34,227.36 242.14,227.67 242.94,227.97 243.75,228.28 244.55,228.58 245.35,228.88 246.15,229.18 246.96,229.47 247.76,229.77 248.56,230.06 249.36,230.36 250.17,230.65 250.97,230.94 251.77,231.23 252.58,231.51 253.38,231.8 254.18,232.08 254.98,232.37 255.79,232.65 256.59,232.93 257.39,233.21 258.19,233.49 259,233.76 259.8,234.04 260.6,234.31 261.4,234.58 262.21,234.85 263.01,235.12 263.81,235.39" fill="none" stroke="#ff0000" stroke-width="1.5" stroke-linejoin="round"/>
<rect x="76.76" y="345.67" width="3.5" height="3.5" fill="none" stroke="#000000" stroke-width="1.0"/>
<rect x="94.94" y="335.99" width="3.5" height="3.5" fill="none" stroke="#000000" stroke-width="1.0"/>
<rect x="112.3" y="322.39" width="3.5" height="3.5" fill="none" stroke="#000000" stroke-width="1.0"/>
<rect x="130.21" y="306.7" width="3.5" height="3.5" fill="none" stroke="#000000" stroke-width="1.0"/>
<rect x="147.84" y="277.94" width="3.5" height="3.5" fill="none" stroke="#000000" stroke-width="1.0"/>
<rect x="183.11" y="264.86" width="3.5" height="3.5" fill="none" stroke="#000000" stroke-width="1.0"/>
<rect x="200.75" y="299.38" width="3.5" height="3.5" fill="none" stroke="#000000" stroke-width="1.0"/>
<rect x="218.11" y="318.73" width="3.5" height="3.5" fill="none" stroke="#000000" stroke-width="1.0"/>
<rect x="236.02" y="331.81" width="3.5" height="3.5" fill="none" stroke="#000000" stroke-width="1.0"/>
<rect x="253.65" y="343.84" width="3.5" height="3.5" fill="none" stroke="#000000" stroke-width="1.0"/>
<circle cx="79.6" cy="326.76" r="2" fill="none" stroke="#ff0000" stroke-width="1.1"/>
<circle cx="96.96" cy="317.87" r="2" fill="none" stroke="#ff0000" stroke-width="1.1"/>
<circle cx="114.6" cy="304.79" r="2" fill="none" stroke="#ff0000" stroke-width="1.1"/>
<circle cx="132.23" cy="288.58" r="2" fill="none" stroke="#ff0000" stroke-width="1.1"/>
<circle cx="184.86" cy="244.39" r="2" fill="none" stroke="#ff0000" stroke-width="1.1"/>
<circle cx="202.5" cy="279.16" r="2" fill="none" stroke="#ff0000" stroke-width="1.1"/>
<circle cx="220.4" cy="299.04" r="2" fill="none" stroke="#ff0000" stroke-width="1.1"/>
<circle cx="238.04" cy="313.16" r="2" fill="none" stroke="#ff0000" stroke-width="1.1"/>
<circle cx="255.94" cy="325.19" r="2" fill="none" stroke="#ff0000" stroke-width="1.1"/>
<polygon points="167.5,195.9 165.3,199.7 169.7,199.7" fill="none" stroke="#0000ff" stroke-width="1.1" stroke-linejoin="miter"/>
<polygon points="88.01,280.1 85.81,283.9 90.21,283.9" fill="none" stroke="#0000ff" stroke-width="1.1" stroke-linejoin="miter"/>
<polygon points="105.37,268.07 103.17,271.87 107.57,271.87" fill="none" stroke="#0000ff" stroke-width="1.1" stroke-linejoin="miter"/>
<polygon points="124.63,254.48 122.43,258.28 126.83,258.28" fill="none" stroke="#0000ff" stroke-width="1.1" stroke-linejoin="miter"/>
<polygon points="141.18,232.51 138.98,236.31 143.38,236.31" fill="none" stroke="#0000ff" stroke-width="1.1" stroke-linejoin="miter"/>
<polygon points="159.36,195.9 157.16,199.7 161.56,199.7" fill="none" stroke="#0000ff" stroke-width="1.1" stroke-linejoin="miter"/>
<polygon points="177,205.31 174.8,209.11 179.2,209.11" fill="none" stroke="#0000ff" stroke-width="1.1" stroke-linejoin="miter"/>
<polygon points="194.63,238.79 192.43,242.59 196.83,242.59" fill="none" stroke="#0000ff" stroke-width="1.1" stroke-linejoin="miter"/>
<polygon points="212.54,258.14 210.34,261.94 214.74,261.94" fill="none" stroke="#0000ff" stroke-width="1.1" stroke-linejoin="miter"/>
<polygon points="229.9,272.26 227.7,276.06 232.1,276.06" fill="none" stroke="#0000ff" stroke-width="1.1" stroke-linejoin="miter"/>
<polygon points="248.08,284.29 245.88,288.09 250.28,288.09" fill="none" stroke="#0000ff" stroke-width="1.1" stroke-linejoin="miter"/>
<polygon points="78.51,266.2 76.31,262.4 80.71,262.4" fill="none" stroke="#ff00ff" stroke-width="1.1" stroke-linejoin="miter"/>
<polygon points="96.69,258.61 94.49,254.81 98.89,254.81" fill="none" stroke="#ff00ff" stroke-width="1.1" stroke-linejoin="miter"/>
<polygon points="114.6,247.89 112.4,244.09 116.8,244.09" fill="none" stroke="#ff00ff" stroke-width="1.1" stroke-linejoin="miter"/>
<polygon points="132.23,236.39 130.03,232.59 134.43,232.59" fill="none" stroke="#ff00ff" stroke-width="1.1" stroke-linejoin="miter"/>
<polygon points="149.59,222.27 147.39,218.47 151.79,218.47" fill="none" stroke="#ff00ff" stroke-width="1.1" stroke-linejoin="miter"/>
<polygon points="185.41,207.62 183.21,203.82 187.61,203.82" fill="none" stroke="#ff00ff" stroke-width="1.1" stroke-linejoin="miter"/>
<polygon points="203.04,226.45 200.84,222.65 205.24,222.65" fill="none" stroke="#ff00ff" stroke-width="1.1" stroke-linejoin="miter"/>
<polygon points="220.95,241.09 218.75,237.29 223.15,237.29" fill="none" stroke="#ff00ff" stroke-width="1.1" stroke-linejoin="miter"/>
<polygon points="238.85,252.6 236.65,248.8 241.05,248.8" fill="none" stroke="#ff00ff" stroke-width="1.1" stroke-linejoin="miter"/>
<polygon points="257.03,263.06 254.83,259.26 259.23,259.26" fill="none" stroke="#ff00ff" stroke-width="1.1" stroke-linejoin="miter"/>
<polygon points="77.43,244.34 79.83,246.74 77.43,249.14 75.03,246.74" fill="none" stroke="#008000" stroke-width="1.1" stroke-linejoin="miter"/>
<polygon points="95.61,237.54 98.01,239.94 95.61,242.34 93.21,239.94" fill="none" stroke="#008000" stroke-width="1.1" stroke-linejoin="miter"/>
<polygon points="113.78,229.17 116.18,231.57 113.78,233.97 111.38,231.57" fill="none" stroke="#008000" stroke-width="1.1" stroke-linejoin="miter"/>
<polygon points="131.69,219.76 134.09,222.16 131.69,224.56 129.29,222.16" fill="none" stroke="#008000" stroke-width="1.1" stroke-linejoin="miter"/>
<polygon points="149.59,208.25 151.99,210.65 149.59,213.05 147.19,210.65" fill="none" stroke="#008000" stroke-width="1.1" stroke-linejoin="miter"/>
<polygon points="185.41,196.75 187.81,199.15 185.41,201.55 183.01,199.15" fill="none" stroke="#008000" stroke-width="1.1" stroke-linejoin="miter"/>
<polygon points="202.5,210.34 204.9,212.74 202.5,215.14 200.1,212.74" fill="none" stroke="#008000" stroke-width="1.1" stroke-linejoin="miter"/>
<polygon points="220.95,221.33 223.35,223.73 220.95,226.13 218.55,223.73" fill="none" stroke="#008000" stroke-width="1.1" stroke-linejoin="miter"/>
<polygon points="238.85,231.26 241.25,233.66 238.85,236.06 236.45,233.66" fill="none" stroke="#008000" stroke-width="1.1" stroke-linejoin="miter"/>
<polygon points="257.03,239.89 259.43,242.29 257.03,244.69 254.63,242.29" fill="none" stroke="#008000" stroke-width="1.1" stroke-linejoin="miter"/>
<polygon points="69.53,235.76 73.33,233.56 73.33,237.96" fill="none" stroke="#000080" stroke-width="1.1" stroke-linejoin="miter"/>
<polygon points="88.25,228.96 92.05,226.76 92.05,231.16" fill="none" stroke="#000080" stroke-width="1.1" stroke-linejoin="miter"/>
<polygon points="106.97,222.16 110.77,219.96 110.77,224.36" fill="none" stroke="#000080" stroke-width="1.1" stroke-linejoin="miter"/>
<polygon points="126.5,214.84 130.3,212.64 130.3,217.04" fill="none" stroke="#000080" stroke-width="1.1" stroke-linejoin="miter"/>
<polygon points="145.22,205.42 149.02,203.22 149.02,207.62" fill="none" stroke="#000080" stroke-width="1.1" stroke-linejoin="miter"/>
<polygon points="184.02,200.72 187.82,198.52 187.82,202.91" fill="none" stroke="#000080" stroke-width="1.1" stroke-linejoin="miter"/>
<polygon points="202.47,210.65 206.27,208.45 206.27,212.85" fill="none" stroke="#000080" stroke-width="1.1" stroke-linejoin="miter"/>
<polygon points="222.27,219.02 226.07,216.82 226.07,221.22" fill="none" stroke="#000080" stroke-width="1.1" stroke-linejoin="miter"/>
<polygon points="241.26,227.39 245.06,225.19 245.06,229.59" fill="none" stroke="#000080" stroke-width="1.1" stroke-linejoin="miter"/>
<polygon points="260.53,234.71 264.33,232.51 264.33,236.91" fill="none" stroke="#000080" stroke-width="1.1" stroke-linejoin="miter"/>
<rect x="67.4" y="195.8" width="200.5" height="159" rx="0.8" fill="none" stroke="#000" stroke-width="1.9" stroke-linejoin="round"/>
<line x1="86.11" y1="354.8" x2="86.11" y2="351.8" stroke="#000" stroke-width="1.4" />
<line x1="86.11" y1="195.8" x2="86.11" y2="198.8" stroke="#000" stroke-width="1.4" />
<line x1="113.24" y1="354.8" x2="113.24" y2="351.8" stroke="#000" stroke-width="1.4" />
<line x1="113.24" y1="195.8" x2="113.24" y2="198.8" stroke="#000" stroke-width="1.4" />
<line x1="140.37" y1="354.8" x2="140.37" y2="351.8" stroke="#000" stroke-width="1.4" />
<line x1="140.37" y1="195.8" x2="140.37" y2="198.8" stroke="#000" stroke-width="1.4" />
<line x1="167.5" y1="354.8" x2="167.5" y2="351.8" stroke="#000" stroke-width="1.4" />
<line x1="167.5" y1="195.8" x2="167.5" y2="198.8" stroke="#000" stroke-width="1.4" />
<line x1="194.63" y1="354.8" x2="194.63" y2="351.8" stroke="#000" stroke-width="1.4" />
<line x1="194.63" y1="195.8" x2="194.63" y2="198.8" stroke="#000" stroke-width="1.4" />
<line x1="221.76" y1="354.8" x2="221.76" y2="351.8" stroke="#000" stroke-width="1.4" />
<line x1="221.76" y1="195.8" x2="221.76" y2="198.8" stroke="#000" stroke-width="1.4" />
<line x1="248.89" y1="354.8" x2="248.89" y2="351.8" stroke="#000" stroke-width="1.4" />
<line x1="248.89" y1="195.8" x2="248.89" y2="198.8" stroke="#000" stroke-width="1.4" />
<line x1="72.55" y1="354.8" x2="72.55" y2="353" stroke="#000" stroke-width="1.2" />
<line x1="72.55" y1="195.8" x2="72.55" y2="197.6" stroke="#000" stroke-width="1.2" />
<line x1="99.67" y1="354.8" x2="99.67" y2="353" stroke="#000" stroke-width="1.2" />
<line x1="99.67" y1="195.8" x2="99.67" y2="197.6" stroke="#000" stroke-width="1.2" />
<line x1="126.81" y1="354.8" x2="126.81" y2="353" stroke="#000" stroke-width="1.2" />
<line x1="126.81" y1="195.8" x2="126.81" y2="197.6" stroke="#000" stroke-width="1.2" />
<line x1="153.94" y1="354.8" x2="153.94" y2="353" stroke="#000" stroke-width="1.2" />
<line x1="153.94" y1="195.8" x2="153.94" y2="197.6" stroke="#000" stroke-width="1.2" />
<line x1="181.06" y1="354.8" x2="181.06" y2="353" stroke="#000" stroke-width="1.2" />
<line x1="181.06" y1="195.8" x2="181.06" y2="197.6" stroke="#000" stroke-width="1.2" />
<line x1="208.19" y1="354.8" x2="208.19" y2="353" stroke="#000" stroke-width="1.2" />
<line x1="208.19" y1="195.8" x2="208.19" y2="197.6" stroke="#000" stroke-width="1.2" />
<line x1="235.32" y1="354.8" x2="235.32" y2="353" stroke="#000" stroke-width="1.2" />
<line x1="235.32" y1="195.8" x2="235.32" y2="197.6" stroke="#000" stroke-width="1.2" />
<line x1="262.45" y1="354.8" x2="262.45" y2="353" stroke="#000" stroke-width="1.2" />
<line x1="262.45" y1="195.8" x2="262.45" y2="197.6" stroke="#000" stroke-width="1.2" />
<line x1="67.4" y1="198.1" x2="70.4" y2="198.1" stroke="#000" stroke-width="1.4" />
<line x1="267.9" y1="198.1" x2="264.9" y2="198.1" stroke="#000" stroke-width="1.4" />
<line x1="67.4" y1="250.4" x2="70.4" y2="250.4" stroke="#000" stroke-width="1.4" />
<line x1="267.9" y1="250.4" x2="264.9" y2="250.4" stroke="#000" stroke-width="1.4" />
<line x1="67.4" y1="302.7" x2="70.4" y2="302.7" stroke="#000" stroke-width="1.4" />
<line x1="267.9" y1="302.7" x2="264.9" y2="302.7" stroke="#000" stroke-width="1.4" />
<line x1="67.4" y1="355" x2="70.4" y2="355" stroke="#000" stroke-width="1.4" />
<line x1="267.9" y1="355" x2="264.9" y2="355" stroke="#000" stroke-width="1.4" />
<line x1="67.4" y1="224.25" x2="69.2" y2="224.25" stroke="#000" stroke-width="1.2" />
<line x1="267.9" y1="224.25" x2="266.1" y2="224.25" stroke="#000" stroke-width="1.2" />
<line x1="67.4" y1="276.55" x2="69.2" y2="276.55" stroke="#000" stroke-width="1.2" />
<line x1="267.9" y1="276.55" x2="266.1" y2="276.55" stroke="#000" stroke-width="1.2" />
<line x1="67.4" y1="328.85" x2="69.2" y2="328.85" stroke="#000" stroke-width="1.2" />
<line x1="267.9" y1="328.85" x2="266.1" y2="328.85" stroke="#000" stroke-width="1.2" />
<text x="0" y="0" font-size="11.8" text-anchor="end" font-weight="bold" font-family="Liberation Sans" transform="translate(64.2,202.1) scale(0.92,1)">0.0</text>
<text x="0" y="0" font-size="11.8" text-anchor="end" font-weight="bold" font-family="Liberation Sans" transform="translate(64.2,254.4) scale(0.92,1)">-0.2</text>
<text x="0" y="0" font-size="11.8" text-anchor="end" font-weight="bold" font-family="Liberation Sans" transform="translate(64.2,306.7) scale(0.92,1)">-0.4</text>
<text x="0" y="0" font-size="11.8" text-anchor="end" font-weight="bold" font-family="Liberation Sans" transform="translate(64.2,359) scale(0.92,1)">-0.6</text>
<text x="86.11" y="367" font-size="10.5" text-anchor="middle" font-weight="bold" font-family="Liberation Sans" >-0.3</text>
<text x="113.24" y="367" font-size="10.5" text-anchor="middle" font-weight="bold" font-family="Liberation Sans" >-0.2</text>
<text x="140.37" y="367" font-size="10.5" text-anchor="middle" font-weight="bold" font-family="Liberation Sans" >-0.1</text>
<text x="167.5" y="367" font-size="10.5" text-anchor="middle" font-weight="bold" font-family="Liberation Sans" >0.0</text>
<text x="194.63" y="367" font-size="10.5" text-anchor="middle" font-weight="bold" font-family="Liberation Sans" >0.1</text>
<text x="221.76" y="367" font-size="10.5" text-anchor="middle" font-weight="bold" font-family="Liberation Sans" >0.2</text>
<text x="248.89" y="367" font-size="10.5" text-anchor="middle" font-weight="bold" font-family="Liberation Sans" >0.3</text>
<text x="168" y="381" font-size="11" text-anchor="middle" font-weight="bold" font-family="Liberation Sans" >B (T)</text>
<text x="0" y="0" font-size="10.8" text-anchor="middle" font-weight="bold" font-family="Liberation Sans" transform="translate(42.8,271.5) rotate(-90)">ΔG<tspan font-size="9" dy="3">xx</tspan><tspan dy="-3"> (e</tspan><tspan font-size="7.5" dy="-4">2</tspan><tspan dy="4">/h)</tspan></text>
<text x="2.6" y="202" font-size="18" text-anchor="start" font-weight="bold" font-family="Liberation Sans" stroke="#000" stroke-width="0.5">(b)</text>
<text x="72.3" y="214" font-size="12.3" text-anchor="start" font-weight="bold" font-family="Liberation Sans" letter-spacing="0.5">30 nm</text>
<rect x="154.6" y="273.6" width="4" height="4" fill="none" stroke="#000000" stroke-width="1.0"/>
<text x="0" y="0" font-size="11.8" text-anchor="start" font-weight="bold" font-family="Liberation Sans" transform="translate(166.4,279.3) scale(0.95,1)">2 K</text>
<circle cx="156.6" cy="288.95" r="2" fill="none" stroke="#ff0000" stroke-width="1.0"/>
<text x="0" y="0" font-size="11.8" text-anchor="start" font-weight="bold" font-family="Liberation Sans" transform="translate(166.4,292.65) scale(0.95,1)">3 K</text>
<polygon points="156.6,300.1 154.4,303.9 158.8,303.9" fill="none" stroke="#0000ff" stroke-width="1.0" stroke-linejoin="miter"/>
<text x="0" y="0" font-size="11.8" text-anchor="start" font-weight="bold" font-family="Liberation Sans" transform="translate(166.4,306) scale(0.95,1)">5 K</text>
<polygon points="156.6,317.85 154.4,314.05 158.8,314.05" fill="none" stroke="#ff00ff" stroke-width="1.0" stroke-linejoin="miter"/>
<text x="0" y="0" font-size="11.8" text-anchor="start" font-weight="bold" font-family="Liberation Sans" transform="translate(166.4,319.35) scale(0.95,1)">8 K</text>
<polygon points="156.6,326.6 159,329 156.6,331.4 154.2,329" fill="none" stroke="#008000" stroke-width="1.0" stroke-linejoin="miter"/>
<text x="0" y="0" font-size="11.8" text-anchor="start" font-weight="bold" font-family="Liberation Sans" transform="translate(166.4,332.7) scale(0.95,1)">10 K</text>
<polygon points="154.4,342.35 158.2,340.15 158.2,344.55" fill="none" stroke="#000080" stroke-width="1.0" stroke-linejoin="miter"/>
<text x="0" y="0" font-size="11.8" text-anchor="start" font-weight="bold" font-family="Liberation Sans" transform="translate(166.4,346.05) scale(0.95,1)">12 K</text>
</g>
<g id="pd">
<line x1="381.93" y1="237" x2="381.93" y2="243" stroke="#aaaaaa" stroke-width="0.8" /><line x1="380.13" y1="237" x2="383.73" y2="237" stroke="#aaaaaa" stroke-width="0.8" /><line x1="380.13" y1="243" x2="383.73" y2="243" stroke="#aaaaaa" stroke-width="0.8" />
<line x1="394.51" y1="244.4" x2="394.51" y2="250.4" stroke="#aaaaaa" stroke-width="0.8" /><line x1="392.71" y1="244.4" x2="396.31" y2="244.4" stroke="#aaaaaa" stroke-width="0.8" /><line x1="392.71" y1="250.4" x2="396.31" y2="250.4" stroke="#aaaaaa" stroke-width="0.8" />
<line x1="429.77" y1="263.8" x2="429.77" y2="269.8" stroke="#aaaaaa" stroke-width="0.8" /><line x1="427.97" y1="263.8" x2="431.57" y2="263.8" stroke="#aaaaaa" stroke-width="0.8" /><line x1="427.97" y1="269.8" x2="431.57" y2="269.8" stroke="#aaaaaa" stroke-width="0.8" />
<line x1="462.2" y1="287.9" x2="462.2" y2="295.9" stroke="#aaaaaa" stroke-width="0.8" /><line x1="460.4" y1="287.9" x2="464" y2="287.9" stroke="#aaaaaa" stroke-width="0.8" /><line x1="460.4" y1="295.9" x2="464" y2="295.9" stroke="#aaaaaa" stroke-width="0.8" />
<line x1="477.6" y1="300" x2="477.6" y2="308" stroke="#aaaaaa" stroke-width="0.8" /><line x1="475.8" y1="300" x2="479.4" y2="300" stroke="#aaaaaa" stroke-width="0.8" /><line x1="475.8" y1="308" x2="479.4" y2="308" stroke="#aaaaaa" stroke-width="0.8" />
<line x1="490.18" y1="309" x2="490.18" y2="315" stroke="#aaaaaa" stroke-width="0.8" /><line x1="488.38" y1="309" x2="491.98" y2="309" stroke="#aaaaaa" stroke-width="0.8" /><line x1="488.38" y1="315" x2="491.98" y2="315" stroke="#aaaaaa" stroke-width="0.8" />
<line x1="366.53" y1="216.5" x2="366.53" y2="224.5" stroke="#ffaaaa" stroke-width="0.8" /><line x1="364.73" y1="216.5" x2="368.33" y2="216.5" stroke="#ffaaaa" stroke-width="0.8" /><line x1="364.73" y1="224.5" x2="368.33" y2="224.5" stroke="#ffaaaa" stroke-width="0.8" />
<line x1="394.51" y1="236" x2="394.51" y2="242" stroke="#ffaaaa" stroke-width="0.8" /><line x1="392.71" y1="236" x2="396.31" y2="236" stroke="#ffaaaa" stroke-width="0.8" /><line x1="392.71" y1="242" x2="396.31" y2="242" stroke="#ffaaaa" stroke-width="0.8" />
<line x1="429.77" y1="273.2" x2="429.77" y2="279.2" stroke="#ffaaaa" stroke-width="0.8" /><line x1="427.97" y1="273.2" x2="431.57" y2="273.2" stroke="#ffaaaa" stroke-width="0.8" /><line x1="427.97" y1="279.2" x2="431.57" y2="279.2" stroke="#ffaaaa" stroke-width="0.8" />
<line x1="462.2" y1="286" x2="462.2" y2="294" stroke="#ffaaaa" stroke-width="0.8" /><line x1="460.4" y1="286" x2="464" y2="286" stroke="#ffaaaa" stroke-width="0.8" /><line x1="460.4" y1="294" x2="464" y2="294" stroke="#ffaaaa" stroke-width="0.8" />
<line x1="477.6" y1="298" x2="477.6" y2="312" stroke="#ffaaaa" stroke-width="0.8" /><line x1="475.8" y1="298" x2="479.4" y2="298" stroke="#ffaaaa" stroke-width="0.8" /><line x1="475.8" y1="312" x2="479.4" y2="312" stroke="#ffaaaa" stroke-width="0.8" />
<line x1="490.18" y1="309.9" x2="490.18" y2="317.9" stroke="#ffaaaa" stroke-width="0.8" /><line x1="488.38" y1="309.9" x2="491.98" y2="309.9" stroke="#ffaaaa" stroke-width="0.8" /><line x1="488.38" y1="317.9" x2="491.98" y2="317.9" stroke="#ffaaaa" stroke-width="0.8" />
<line x1="366.53" y1="237.5" x2="366.53" y2="245.5" stroke="#aaaaff" stroke-width="0.8" /><line x1="364.73" y1="237.5" x2="368.33" y2="237.5" stroke="#aaaaff" stroke-width="0.8" /><line x1="364.73" y1="245.5" x2="368.33" y2="245.5" stroke="#aaaaff" stroke-width="0.8" />
<line x1="394.51" y1="265.3" x2="394.51" y2="273.3" stroke="#aaaaff" stroke-width="0.8" /><line x1="392.71" y1="265.3" x2="396.31" y2="265.3" stroke="#aaaaff" stroke-width="0.8" /><line x1="392.71" y1="273.3" x2="396.31" y2="273.3" stroke="#aaaaff" stroke-width="0.8" />
<line x1="429.77" y1="273.3" x2="429.77" y2="285.3" stroke="#aaaaff" stroke-width="0.8" /><line x1="427.97" y1="273.3" x2="431.57" y2="273.3" stroke="#aaaaff" stroke-width="0.8" /><line x1="427.97" y1="285.3" x2="431.57" y2="285.3" stroke="#aaaaff" stroke-width="0.8" />
<line x1="462.2" y1="290.1" x2="462.2" y2="304.1" stroke="#aaaaff" stroke-width="0.8" /><line x1="460.4" y1="290.1" x2="464" y2="290.1" stroke="#aaaaff" stroke-width="0.8" /><line x1="460.4" y1="304.1" x2="464" y2="304.1" stroke="#aaaaff" stroke-width="0.8" />
<line x1="477.6" y1="305.8" x2="477.6" y2="317.8" stroke="#aaaaff" stroke-width="0.8" /><line x1="475.8" y1="305.8" x2="479.4" y2="305.8" stroke="#aaaaff" stroke-width="0.8" /><line x1="475.8" y1="317.8" x2="479.4" y2="317.8" stroke="#aaaaff" stroke-width="0.8" />
<line x1="490.18" y1="307.7" x2="490.18" y2="313.7" stroke="#aaaaff" stroke-width="0.8" /><line x1="488.38" y1="307.7" x2="491.98" y2="307.7" stroke="#aaaaff" stroke-width="0.8" /><line x1="488.38" y1="313.7" x2="491.98" y2="313.7" stroke="#aaaaff" stroke-width="0.8" />
<line x1="366.53" y1="200" x2="366.53" y2="206" stroke="#ffaaff" stroke-width="0.8" /><line x1="364.73" y1="200" x2="368.33" y2="200" stroke="#ffaaff" stroke-width="0.8" /><line x1="364.73" y1="206" x2="368.33" y2="206" stroke="#ffaaff" stroke-width="0.8" />
<line x1="394.51" y1="254.4" x2="394.51" y2="260.4" stroke="#ffaaff" stroke-width="0.8" /><line x1="392.71" y1="254.4" x2="396.31" y2="254.4" stroke="#ffaaff" stroke-width="0.8" /><line x1="392.71" y1="260.4" x2="396.31" y2="260.4" stroke="#ffaaff" stroke-width="0.8" />
<line x1="429.77" y1="256.4" x2="429.77" y2="262.4" stroke="#ffaaff" stroke-width="0.8" /><line x1="427.97" y1="256.4" x2="431.57" y2="256.4" stroke="#ffaaff" stroke-width="0.8" /><line x1="427.97" y1="262.4" x2="431.57" y2="262.4" stroke="#ffaaff" stroke-width="0.8" />
<line x1="462.2" y1="278.6" x2="462.2" y2="290.6" stroke="#ffaaff" stroke-width="0.8" /><line x1="460.4" y1="278.6" x2="464" y2="278.6" stroke="#ffaaff" stroke-width="0.8" /><line x1="460.4" y1="290.6" x2="464" y2="290.6" stroke="#ffaaff" stroke-width="0.8" />
<line x1="477.6" y1="292.4" x2="477.6" y2="312.4" stroke="#ffaaff" stroke-width="0.8" /><line x1="475.8" y1="292.4" x2="479.4" y2="292.4" stroke="#ffaaff" stroke-width="0.8" /><line x1="475.8" y1="312.4" x2="479.4" y2="312.4" stroke="#ffaaff" stroke-width="0.8" />
<line x1="490.18" y1="308.4" x2="490.18" y2="316.4" stroke="#ffaaff" stroke-width="0.8" /><line x1="488.38" y1="308.4" x2="491.98" y2="308.4" stroke="#ffaaff" stroke-width="0.8" /><line x1="488.38" y1="316.4" x2="491.98" y2="316.4" stroke="#ffaaff" stroke-width="0.8" />
<line x1="505.58" y1="322.2" x2="505.58" y2="344.2" stroke="#ffaaff" stroke-width="0.8" /><line x1="503.78" y1="322.2" x2="507.38" y2="322.2" stroke="#ffaaff" stroke-width="0.8" /><line x1="503.78" y1="344.2" x2="507.38" y2="344.2" stroke="#ffaaff" stroke-width="0.8" />
<line x1="381.93" y1="224.3" x2="381.93" y2="224.3" stroke="#99cc99" stroke-width="0.8" /><line x1="380.13" y1="224.3" x2="383.73" y2="224.3" stroke="#99cc99" stroke-width="0.8" /><line x1="380.13" y1="224.3" x2="383.73" y2="224.3" stroke="#99cc99" stroke-width="0.8" />
<line x1="394.51" y1="240.2" x2="394.51" y2="246.2" stroke="#99cc99" stroke-width="0.8" /><line x1="392.71" y1="240.2" x2="396.31" y2="240.2" stroke="#99cc99" stroke-width="0.8" /><line x1="392.71" y1="246.2" x2="396.31" y2="246.2" stroke="#99cc99" stroke-width="0.8" />
<line x1="429.77" y1="250.1" x2="429.77" y2="256.1" stroke="#99cc99" stroke-width="0.8" /><line x1="427.97" y1="250.1" x2="431.57" y2="250.1" stroke="#99cc99" stroke-width="0.8" /><line x1="427.97" y1="256.1" x2="431.57" y2="256.1" stroke="#99cc99" stroke-width="0.8" />
<line x1="462.2" y1="285.8" x2="462.2" y2="293.8" stroke="#99cc99" stroke-width="0.8" /><line x1="460.4" y1="285.8" x2="464" y2="285.8" stroke="#99cc99" stroke-width="0.8" /><line x1="460.4" y1="293.8" x2="464" y2="293.8" stroke="#99cc99" stroke-width="0.8" />
<line x1="477.6" y1="303" x2="477.6" y2="311" stroke="#99cc99" stroke-width="0.8" /><line x1="475.8" y1="303" x2="479.4" y2="303" stroke="#99cc99" stroke-width="0.8" /><line x1="475.8" y1="311" x2="479.4" y2="311" stroke="#99cc99" stroke-width="0.8" />
<line x1="490.18" y1="315.1" x2="490.18" y2="321.1" stroke="#99cc99" stroke-width="0.8" /><line x1="488.38" y1="315.1" x2="491.98" y2="315.1" stroke="#99cc99" stroke-width="0.8" /><line x1="488.38" y1="321.1" x2="491.98" y2="321.1" stroke="#99cc99" stroke-width="0.8" />
<line x1="365.9" y1="203.4" x2="505.6" y2="330.11" stroke="#ff0000" stroke-width="1.4" />
<line x1="367.1" y1="222.2" x2="490.2" y2="311.08" stroke="#ff0000" stroke-width="1.4" />
<line x1="366.5" y1="247.4" x2="490.2" y2="316.05" stroke="#ff0000" stroke-width="1.4" />
<line x1="381.8" y1="222.2" x2="490.2" y2="319.43" stroke="#ff0000" stroke-width="1.4" />
<line x1="381.2" y1="238.5" x2="490.2" y2="315.13" stroke="#ff0000" stroke-width="1.4" />
<rect x="379.53" y="237.6" width="4.8" height="4.8" fill="none" stroke="#000000" stroke-width="1.2"/>
<rect x="392.11" y="245" width="4.8" height="4.8" fill="none" stroke="#000000" stroke-width="1.2"/>
<rect x="427.37" y="264.4" width="4.8" height="4.8" fill="none" stroke="#000000" stroke-width="1.2"/>
<rect x="459.8" y="289.5" width="4.8" height="4.8" fill="none" stroke="#000000" stroke-width="1.2"/>
<rect x="475.2" y="301.6" width="4.8" height="4.8" fill="none" stroke="#000000" stroke-width="1.2"/>
<rect x="487.78" y="309.6" width="4.8" height="4.8" fill="none" stroke="#000000" stroke-width="1.2"/>
<circle cx="366.53" cy="220.5" r="2.4" fill="none" stroke="#ff0000" stroke-width="1.2"/>
<circle cx="394.51" cy="239" r="2.4" fill="none" stroke="#ff0000" stroke-width="1.2"/>
<circle cx="429.77" cy="276.2" r="2.4" fill="none" stroke="#ff0000" stroke-width="1.2"/>
<circle cx="462.2" cy="290" r="2.4" fill="none" stroke="#ff0000" stroke-width="1.2"/>
<circle cx="477.6" cy="305" r="2.4" fill="none" stroke="#ff0000" stroke-width="1.2"/>
<circle cx="490.18" cy="313.9" r="2.4" fill="none" stroke="#ff0000" stroke-width="1.2"/>
<polygon points="366.53,238.86 363.89,243.42 369.17,243.42" fill="none" stroke="#0000ff" stroke-width="1.2" stroke-linejoin="miter"/>
<polygon points="394.51,266.66 391.87,271.22 397.15,271.22" fill="none" stroke="#0000ff" stroke-width="1.2" stroke-linejoin="miter"/>
<polygon points="429.77,276.66 427.13,281.22 432.41,281.22" fill="none" stroke="#0000ff" stroke-width="1.2" stroke-linejoin="miter"/>
<polygon points="462.2,294.46 459.56,299.02 464.84,299.02" fill="none" stroke="#0000ff" stroke-width="1.2" stroke-linejoin="miter"/>
<polygon points="477.6,309.16 474.96,313.72 480.24,313.72" fill="none" stroke="#0000ff" stroke-width="1.2" stroke-linejoin="miter"/>
<polygon points="490.18,308.06 487.54,312.62 492.82,312.62" fill="none" stroke="#0000ff" stroke-width="1.2" stroke-linejoin="miter"/>
<polygon points="366.53,205.64 363.89,201.08 369.17,201.08" fill="none" stroke="#ff00ff" stroke-width="1.2" stroke-linejoin="miter"/>
<polygon points="394.51,260.04 391.87,255.48 397.15,255.48" fill="none" stroke="#ff00ff" stroke-width="1.2" stroke-linejoin="miter"/>
<polygon points="429.77,262.04 427.13,257.48 432.41,257.48" fill="none" stroke="#ff00ff" stroke-width="1.2" stroke-linejoin="miter"/>
<polygon points="462.2,287.24 459.56,282.68 464.84,282.68" fill="none" stroke="#ff00ff" stroke-width="1.2" stroke-linejoin="miter"/>
<polygon points="477.6,305.04 474.96,300.48 480.24,300.48" fill="none" stroke="#ff00ff" stroke-width="1.2" stroke-linejoin="miter"/>
<polygon points="490.18,315.04 487.54,310.48 492.82,310.48" fill="none" stroke="#ff00ff" stroke-width="1.2" stroke-linejoin="miter"/>
<polygon points="505.58,335.84 502.94,331.28 508.22,331.28" fill="none" stroke="#ff00ff" stroke-width="1.2" stroke-linejoin="miter"/>
<polygon points="381.93,221.42 384.81,224.3 381.93,227.18 379.05,224.3" fill="none" stroke="#008000" stroke-width="1.2" stroke-linejoin="miter"/>
<polygon points="394.51,240.32 397.39,243.2 394.51,246.08 391.63,243.2" fill="none" stroke="#008000" stroke-width="1.2" stroke-linejoin="miter"/>
<polygon points="429.77,250.22 432.65,253.1 429.77,255.98 426.89,253.1" fill="none" stroke="#008000" stroke-width="1.2" stroke-linejoin="miter"/>
<polygon points="462.2,286.92 465.08,289.8 462.2,292.68 459.32,289.8" fill="none" stroke="#008000" stroke-width="1.2" stroke-linejoin="miter"/>
<polygon points="477.6,304.12 480.48,307 477.6,309.88 474.72,307" fill="none" stroke="#008000" stroke-width="1.2" stroke-linejoin="miter"/>
<polygon points="490.18,315.22 493.06,318.1 490.18,320.98 487.3,318.1" fill="none" stroke="#008000" stroke-width="1.2" stroke-linejoin="miter"/>
<rect x="318.9" y="194.3" width="206.2" height="164.6" rx="0.8" fill="none" stroke="#000" stroke-width="1.9" stroke-linejoin="round"/>
<line x1="318.7" y1="358.9" x2="318.7" y2="355.4" stroke="#000" stroke-width="1.4" />
<line x1="318.7" y1="194.3" x2="318.7" y2="197.8" stroke="#000" stroke-width="1.4" />
<line x1="477.6" y1="358.9" x2="477.6" y2="355.4" stroke="#000" stroke-width="1.4" />
<line x1="477.6" y1="194.3" x2="477.6" y2="197.8" stroke="#000" stroke-width="1.4" />
<line x1="366.53" y1="358.9" x2="366.53" y2="356.9" stroke="#000" stroke-width="1.2" />
<line x1="366.53" y1="194.3" x2="366.53" y2="196.3" stroke="#000" stroke-width="1.2" />
<line x1="394.51" y1="358.9" x2="394.51" y2="356.9" stroke="#000" stroke-width="1.2" />
<line x1="394.51" y1="194.3" x2="394.51" y2="196.3" stroke="#000" stroke-width="1.2" />
<line x1="414.37" y1="358.9" x2="414.37" y2="356.9" stroke="#000" stroke-width="1.2" />
<line x1="414.37" y1="194.3" x2="414.37" y2="196.3" stroke="#000" stroke-width="1.2" />
<line x1="429.77" y1="358.9" x2="429.77" y2="356.9" stroke="#000" stroke-width="1.2" />
<line x1="429.77" y1="194.3" x2="429.77" y2="196.3" stroke="#000" stroke-width="1.2" />
<line x1="442.35" y1="358.9" x2="442.35" y2="356.9" stroke="#000" stroke-width="1.2" />
<line x1="442.35" y1="194.3" x2="442.35" y2="196.3" stroke="#000" stroke-width="1.2" />
<line x1="452.99" y1="358.9" x2="452.99" y2="356.9" stroke="#000" stroke-width="1.2" />
<line x1="452.99" y1="194.3" x2="452.99" y2="196.3" stroke="#000" stroke-width="1.2" />
<line x1="462.2" y1="358.9" x2="462.2" y2="356.9" stroke="#000" stroke-width="1.2" />
<line x1="462.2" y1="194.3" x2="462.2" y2="196.3" stroke="#000" stroke-width="1.2" />
<line x1="470.33" y1="358.9" x2="470.33" y2="356.9" stroke="#000" stroke-width="1.2" />
<line x1="470.33" y1="194.3" x2="470.33" y2="196.3" stroke="#000" stroke-width="1.2" />
<line x1="525.43" y1="358.9" x2="525.43" y2="356.9" stroke="#000" stroke-width="1.2" />
<line x1="525.43" y1="194.3" x2="525.43" y2="196.3" stroke="#000" stroke-width="1.2" />
<line x1="318.9" y1="282.5" x2="322.4" y2="282.5" stroke="#000" stroke-width="1.4" />
<line x1="525.1" y1="282.5" x2="521.6" y2="282.5" stroke="#000" stroke-width="1.4" />
<line x1="318.9" y1="341" x2="320.9" y2="341" stroke="#000" stroke-width="1.2" />
<line x1="525.1" y1="341" x2="523.1" y2="341" stroke="#000" stroke-width="1.2" />
<line x1="318.9" y1="326.75" x2="320.9" y2="326.75" stroke="#000" stroke-width="1.2" />
<line x1="525.1" y1="326.75" x2="523.1" y2="326.75" stroke="#000" stroke-width="1.2" />
<line x1="318.9" y1="315.11" x2="320.9" y2="315.11" stroke="#000" stroke-width="1.2" />
<line x1="525.1" y1="315.11" x2="523.1" y2="315.11" stroke="#000" stroke-width="1.2" />
<line x1="318.9" y1="305.27" x2="320.9" y2="305.27" stroke="#000" stroke-width="1.2" />
<line x1="525.1" y1="305.27" x2="523.1" y2="305.27" stroke="#000" stroke-width="1.2" />
<line x1="318.9" y1="296.75" x2="320.9" y2="296.75" stroke="#000" stroke-width="1.2" />
<line x1="525.1" y1="296.75" x2="523.1" y2="296.75" stroke="#000" stroke-width="1.2" />
<line x1="318.9" y1="289.23" x2="320.9" y2="289.23" stroke="#000" stroke-width="1.2" />
<line x1="525.1" y1="289.23" x2="523.1" y2="289.23" stroke="#000" stroke-width="1.2" />
<line x1="318.9" y1="238.25" x2="320.9" y2="238.25" stroke="#000" stroke-width="1.2" />
<line x1="525.1" y1="238.25" x2="523.1" y2="238.25" stroke="#000" stroke-width="1.2" />
<line x1="318.9" y1="212.36" x2="320.9" y2="212.36" stroke="#000" stroke-width="1.2" />
<line x1="525.1" y1="212.36" x2="523.1" y2="212.36" stroke="#000" stroke-width="1.2" />
<text x="318.7" y="372" font-size="11" text-anchor="middle" font-weight="bold" font-family="Liberation Sans" >1</text>
<text x="477.4" y="371.2" font-size="11.3" text-anchor="middle" font-weight="bold" font-family="Liberation Sans" >10</text>
<text x="418" y="380" font-size="11.5" text-anchor="middle" font-weight="bold" font-family="Liberation Sans" >T&#160;&#160;(K)</text>
<text x="310" y="286.5" font-size="11" text-anchor="end" font-weight="bold" font-family="Liberation Sans" >10</text>
<text x="310.5" y="281" font-size="7.5" text-anchor="start" font-weight="bold" font-family="Liberation Sans" >2</text>
<text x="0" y="0" font-size="13" text-anchor="middle" font-weight="bold" font-family="Liberation Serif" transform="translate(289.2,275.5) rotate(-90)"><tspan font-style="italic">l</tspan><tspan font-size="11" dy="3" dx="-2" font-style="italic">φ</tspan><tspan dy="-3" dx="2"> (nm)</tspan></text>
<text x="280.1" y="209.7" font-size="17.5" text-anchor="start" font-weight="bold" font-family="Liberation Sans" stroke="#000" stroke-width="0.5">(d)</text>
<g font-family="Liberation Serif"><text x="447.1" y="227.3" font-size="18.5" font-style="italic">l</text><text x="453.6" y="231.5" font-size="10.7" font-style="italic">φ</text><path d="M476.6,220.7 C473.2,220.3 471.6,222.4 470.6,223.6 C469.4,225.0 468.4,226.8 466.9,226.8 C465.7,226.8 465.1,225.4 465.1,223.6 C465.1,221.8 465.9,220.4 467.1,220.4 C468.6,220.4 469.8,222.3 470.8,223.7 C471.8,225.1 473.3,226.9 476.6,226.6" fill="none" stroke="#000" stroke-width="1.05"/><text x="480.5" y="227.2" font-size="18" font-style="italic">T</text><text x="492.3" y="222.4" font-size="14">−</text><text x="500.4" y="221" font-size="11.5" font-style="italic">β</text></g>
<text x="331" y="276.3" font-size="11" text-anchor="start" font-weight="bold" font-family="Liberation Sans" >t (nm)</text>
<text x="373.3" y="277.6" font-size="12.5" text-anchor="start" font-weight="bold" font-family="Liberation Serif" >β</text>
<line x1="331.2" y1="278.3" x2="364.3" y2="278.3" stroke="#000" stroke-width="1.1" />
<rect x="330.15" y="284.95" width="4.3" height="4.3" fill="none" stroke="#000000" stroke-width="1.2"/>
<text x="360.5" y="291.7" font-size="11" text-anchor="end" font-weight="bold" font-family="Liberation Sans" >10</text>
<text x="369.5" y="291.7" font-size="11" text-anchor="start" font-weight="bold" font-family="Liberation Sans" >0.76(4)</text>
<circle cx="332.3" cy="301.25" r="2.15" fill="none" stroke="#ff0000" stroke-width="1.2"/>
<text x="360.5" y="305.85" font-size="11" text-anchor="end" font-weight="bold" font-family="Liberation Sans" >30</text>
<text x="369.5" y="305.85" font-size="11" text-anchor="start" font-weight="bold" font-family="Liberation Sans" >0.78(5)</text>
<polygon points="332.3,313.04 329.94,317.12 334.67,317.12" fill="none" stroke="#0000ff" stroke-width="1.2" stroke-linejoin="miter"/>
<text x="360.5" y="320" font-size="11" text-anchor="end" font-weight="bold" font-family="Liberation Sans" >45</text>
<text x="369.5" y="320" font-size="11" text-anchor="start" font-weight="bold" font-family="Liberation Sans" >0.60(4)</text>
<polygon points="332.3,331.92 329.94,327.83 334.67,327.83" fill="none" stroke="#ff00ff" stroke-width="1.2" stroke-linejoin="miter"/>
<text x="360.5" y="334.15" font-size="11" text-anchor="end" font-weight="bold" font-family="Liberation Sans" >74</text>
<text x="369.5" y="334.15" font-size="11" text-anchor="start" font-weight="bold" font-family="Liberation Sans" >0.98(7)</text>
<polygon points="332.3,341.12 334.88,343.7 332.3,346.28 329.72,343.7" fill="none" stroke="#008000" stroke-width="1.2" stroke-linejoin="miter"/>
<text x="360.5" y="348.3" font-size="11" text-anchor="end" font-weight="bold" font-family="Liberation Sans" >125</text>
<text x="369.5" y="348.3" font-size="11" text-anchor="start" font-weight="bold" font-family="Liberation Sans" >0.97(8)</text>
</g></svg>
</body></html>
